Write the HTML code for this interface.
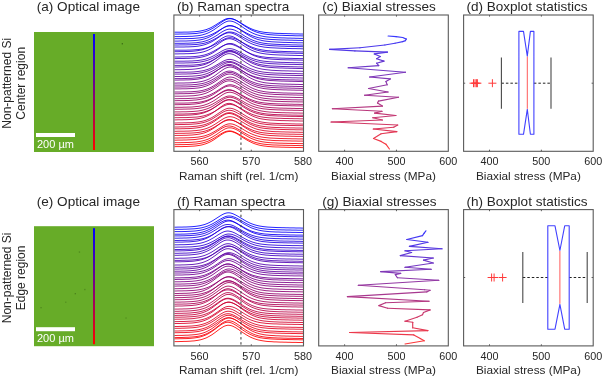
<!DOCTYPE html>
<html><head><meta charset="utf-8"><style>
html,body{margin:0;padding:0;background:#fff;width:602px;height:378px;overflow:hidden}
svg{display:block;will-change:transform}
</style></head><body>
<svg width="602" height="378" viewBox="0 0 602 378" font-family='"Liberation Sans", sans-serif'>
<rect width="602" height="378" fill="#fff"/>
<text x="36.8" y="11.3" font-size="13.55" text-anchor="start" fill="#262626" >(a) Optical image</text>
<text x="177.0" y="11.3" font-size="13.55" text-anchor="start" fill="#262626" >(b) Raman spectra</text>
<text x="322.2" y="11.3" font-size="13.55" text-anchor="start" fill="#262626" >(c) Biaxial stresses</text>
<text x="466.4" y="11.3" font-size="13.55" text-anchor="start" fill="#262626" >(d) Boxplot statistics</text>
<text transform="translate(10.7,83.3) rotate(-90)" font-size="12" text-anchor="middle" fill="#262626">Non-patterned Si</text>
<text transform="translate(25.1,83.3) rotate(-90)" font-size="12" text-anchor="middle" fill="#262626">Center region</text>
<rect x="34" y="32.0" width="120" height="120" fill="#67ac28"/>
<defs><linearGradient id="lg0" x1="0" y1="0" x2="0" y2="1"><stop offset="0" stop-color="#0000ff"/><stop offset="1" stop-color="#ff0000"/></linearGradient></defs>
<rect x="93" y="34.0" width="2" height="116" fill="url(#lg0)"/>
<rect x="121.7" y="43.1" width="1.3" height="1.3" fill="#1a3a08" fill-opacity="0.55"/>
<rect x="36" y="133.0" width="39" height="4" fill="#fff"/>
<text x="37.0" y="147.7" font-size="11" text-anchor="start" fill="#fff" >200 µm</text>
<g fill="none" stroke-width="1.0" stroke-opacity="0.86">
<polyline points="174.5,32.2 176,32.2 178,32.2 180,32.2 182,32.2 184,32.1 186,32.1 188,32.1 190,32.0 192,31.9 194,31.8 196,31.6 198,31.4 200,31.1 202,30.7 204,30.2 206,29.7 208,28.9 210,28.1 212,27.1 214,25.9 216,24.7 218,23.4 220,22.1 222,20.9 224,19.8 226,18.9 228,18.5 230,18.4 232,18.7 234,19.3 236,20.2 238,21.2 240,22.4 242,23.7 244,24.9 246,26.1 248,27.2 250,28.2 252,29.1 254,29.9 256,30.5 258,31.1 260,31.6 262,31.9 264,32.3 266,32.5 268,32.7 270,32.9 272,33.0 274,33.2 276,33.3 278,33.4 280,33.4 282,33.5 284,33.6 286,33.6 288,33.7 290,33.7 292,33.8 294,33.9 296,33.9 298,33.9 300,34.0 302,34.0 303.5,34.1" stroke="rgb(0,0,255)"/>
<polyline points="174.5,34.1 176,34.1 178,34.1 180,34.0 182,34.0 184,34.0 186,34.0 188,33.9 190,33.8 192,33.7 194,33.6 196,33.5 198,33.2 200,32.9 202,32.5 204,32.0 206,31.4 208,30.7 210,29.7 212,28.7 214,27.5 216,26.1 218,24.7 220,23.3 222,21.9 224,20.6 226,19.6 228,18.9 230,18.7 232,18.9 234,19.5 236,20.4 238,21.5 240,22.8 242,24.2 244,25.5 246,26.8 248,28.1 250,29.2 252,30.2 254,31.1 256,31.9 258,32.6 260,33.1 262,33.6 264,33.9 266,34.2 268,34.5 270,34.7 272,34.8 274,35.0 276,35.1 278,35.2 280,35.3 282,35.3 284,35.4 286,35.5 288,35.5 290,35.6 292,35.6 294,35.7 296,35.8 298,35.8 300,35.8 302,35.9 303.5,35.9" stroke="rgb(5,0,250)"/>
<polyline points="174.5,36.6 176,36.6 178,36.6 180,36.6 182,36.5 184,36.5 186,36.5 188,36.4 190,36.3 192,36.3 194,36.1 196,35.9 198,35.7 200,35.4 202,35.0 204,34.4 206,33.8 208,33.0 210,32.0 212,30.9 214,29.7 216,28.3 218,26.9 220,25.4 222,24.0 224,22.8 226,21.8 228,21.1 230,21.0 232,21.3 234,21.9 236,22.9 238,24.0 240,25.3 242,26.7 244,28.1 246,29.4 248,30.7 250,31.8 252,32.8 254,33.7 256,34.5 258,35.1 260,35.7 262,36.1 264,36.5 266,36.8 268,37.0 270,37.2 272,37.3 274,37.5 276,37.6 278,37.7 280,37.8 282,37.9 284,37.9 286,38.0 288,38.1 290,38.1 292,38.2 294,38.2 296,38.3 298,38.3 300,38.4 302,38.4 303.5,38.4" stroke="rgb(10,0,245)"/>
<polyline points="174.5,38.7 176,38.7 178,38.7 180,38.7 182,38.7 184,38.7 186,38.6 188,38.6 190,38.5 192,38.5 194,38.4 196,38.2 198,38.0 200,37.8 202,37.5 204,37.1 206,36.5 208,35.9 210,35.1 212,34.3 214,33.3 216,32.2 218,31.0 220,29.8 222,28.6 224,27.5 226,26.7 228,26.1 230,25.9 232,26.1 234,26.6 236,27.4 238,28.3 240,29.4 242,30.5 244,31.7 246,32.8 248,33.8 250,34.8 252,35.6 254,36.4 256,37.0 258,37.6 260,38.0 262,38.4 264,38.7 266,39.0 268,39.2 270,39.4 272,39.5 274,39.6 276,39.7 278,39.8 280,39.9 282,40.0 284,40.0 286,40.1 288,40.1 290,40.2 292,40.2 294,40.3 296,40.3 298,40.4 300,40.4 302,40.5 303.5,40.5" stroke="rgb(15,0,240)"/>
<polyline points="174.5,41.1 176,41.1 178,41.1 180,41.0 182,41.0 184,41.0 186,41.0 188,40.9 190,40.8 192,40.7 194,40.6 196,40.4 198,40.2 200,39.9 202,39.5 204,39.0 206,38.4 208,37.6 210,36.7 212,35.6 214,34.4 216,33.1 218,31.7 220,30.2 222,28.8 224,27.5 226,26.4 228,25.7 230,25.5 232,25.7 234,26.3 236,27.2 238,28.3 240,29.6 242,31.0 244,32.3 246,33.7 248,34.9 250,36.1 252,37.1 254,38.0 256,38.8 258,39.5 260,40.0 262,40.5 264,40.9 266,41.2 268,41.4 270,41.6 272,41.8 274,41.9 276,42.0 278,42.1 280,42.2 282,42.3 284,42.4 286,42.4 288,42.5 290,42.5 292,42.6 294,42.7 296,42.7 298,42.8 300,42.8 302,42.8 303.5,42.9" stroke="rgb(20,0,235)"/>
<polyline points="174.5,43.3 176,43.3 178,43.3 180,43.3 182,43.3 184,43.3 186,43.2 188,43.2 190,43.1 192,43.0 194,42.9 196,42.8 198,42.5 200,42.2 202,41.9 204,41.4 206,40.8 208,40.1 210,39.2 212,38.2 214,37.1 216,35.9 218,34.6 220,33.2 222,31.9 224,30.8 226,29.9 228,29.3 230,29.1 232,29.4 234,29.9 236,30.8 238,31.9 240,33.1 242,34.3 244,35.6 246,36.8 248,37.9 250,39.0 252,39.9 254,40.7 256,41.4 258,42.0 260,42.5 262,42.9 264,43.3 266,43.5 268,43.8 270,43.9 272,44.1 274,44.2 276,44.3 278,44.4 280,44.5 282,44.6 284,44.6 286,44.7 288,44.7 290,44.8 292,44.9 294,44.9 296,44.9 298,45.0 300,45.0 302,45.1 303.5,45.1" stroke="rgb(25,0,230)"/>
<polyline points="174.5,45.0 176,45.0 178,45.0 180,44.9 182,44.9 184,44.9 186,44.9 188,44.8 190,44.8 192,44.7 194,44.6 196,44.5 198,44.3 200,44.0 202,43.7 204,43.3 206,42.7 208,42.1 210,41.3 212,40.4 214,39.4 216,38.3 218,37.1 220,35.8 222,34.6 224,33.6 226,32.7 228,32.1 230,32.0 232,32.2 234,32.7 236,33.4 238,34.4 240,35.5 242,36.6 244,37.8 246,38.9 248,40.0 250,40.9 252,41.8 254,42.6 256,43.2 258,43.8 260,44.3 262,44.6 264,44.9 266,45.2 268,45.4 270,45.6 272,45.7 274,45.8 276,45.9 278,46.0 280,46.1 282,46.2 284,46.2 286,46.3 288,46.4 290,46.4 292,46.5 294,46.5 296,46.5 298,46.6 300,46.6 302,46.7 303.5,46.7" stroke="rgb(29,0,226)"/>
<polyline points="174.5,47.1 176,47.0 178,47.0 180,47.0 182,47.0 184,47.0 186,46.9 188,46.9 190,46.8 192,46.7 194,46.6 196,46.4 198,46.2 200,45.8 202,45.4 204,44.9 206,44.3 208,43.5 210,42.6 212,41.6 214,40.4 216,39.1 218,37.8 220,36.4 222,35.2 224,34.1 226,33.3 228,32.8 230,32.8 232,33.2 234,33.9 236,34.8 238,35.9 240,37.2 242,38.4 244,39.7 246,40.9 248,42.0 250,43.0 252,43.9 254,44.7 256,45.3 258,45.9 260,46.4 262,46.7 264,47.1 266,47.3 268,47.5 270,47.7 272,47.8 274,47.9 276,48.0 278,48.1 280,48.2 282,48.3 284,48.3 286,48.4 288,48.5 290,48.5 292,48.6 294,48.6 296,48.6 298,48.7 300,48.7 302,48.8 303.5,48.8" stroke="rgb(34,0,221)"/>
<polyline points="174.5,50.2 176,50.2 178,50.2 180,50.2 182,50.2 184,50.2 186,50.2 188,50.1 190,50.1 192,50.0 194,49.9 196,49.7 198,49.6 200,49.3 202,49.0 204,48.6 206,48.1 208,47.5 210,46.7 212,45.9 214,44.9 216,43.8 218,42.6 220,41.4 222,40.3 224,39.3 226,38.4 228,37.9 230,37.7 232,37.9 234,38.4 236,39.1 238,40.0 240,41.1 242,42.2 244,43.3 246,44.4 248,45.4 250,46.4 252,47.2 254,47.9 256,48.6 258,49.1 260,49.5 262,49.9 264,50.2 266,50.5 268,50.7 270,50.8 272,51.0 274,51.1 276,51.2 278,51.3 280,51.3 282,51.4 284,51.5 286,51.5 288,51.6 290,51.6 292,51.7 294,51.7 296,51.8 298,51.8 300,51.9 302,51.9 303.5,51.9" stroke="rgb(39,0,216)"/>
<polyline points="174.5,51.7 176,51.7 178,51.7 180,51.6 182,51.6 184,51.6 186,51.5 188,51.5 190,51.4 192,51.3 194,51.1 196,50.9 198,50.6 200,50.2 202,49.8 204,49.2 206,48.5 208,47.6 210,46.6 212,45.4 214,44.1 216,42.6 218,41.2 220,39.7 222,38.3 224,37.2 226,36.3 228,35.9 230,36.0 232,36.4 234,37.2 236,38.3 238,39.5 240,40.9 242,42.3 244,43.7 246,45.0 248,46.2 250,47.3 252,48.2 254,49.1 256,49.8 258,50.4 260,50.9 262,51.3 264,51.6 266,51.9 268,52.1 270,52.2 272,52.4 274,52.5 276,52.6 278,52.7 280,52.8 282,52.9 284,52.9 286,53.0 288,53.1 290,53.1 292,53.2 294,53.2 296,53.3 298,53.3 300,53.3 302,53.4 303.5,53.4" stroke="rgb(44,0,211)"/>
<polyline points="174.5,53.9 176,53.9 178,53.9 180,53.8 182,53.8 184,53.8 186,53.7 188,53.7 190,53.6 192,53.5 194,53.4 196,53.2 198,52.9 200,52.6 202,52.2 204,51.7 206,51.0 208,50.2 210,49.2 212,48.1 214,46.9 216,45.6 218,44.2 220,42.7 222,41.4 224,40.2 226,39.3 228,38.8 230,38.7 232,39.1 234,39.8 236,40.7 238,41.9 240,43.2 242,44.5 244,45.9 246,47.1 248,48.3 250,49.4 252,50.4 254,51.2 256,51.9 258,52.5 260,53.0 262,53.4 264,53.7 266,54.0 268,54.2 270,54.4 272,54.6 274,54.7 276,54.8 278,54.9 280,55.0 282,55.0 284,55.1 286,55.2 288,55.2 290,55.3 292,55.3 294,55.4 296,55.4 298,55.5 300,55.5 302,55.6 303.5,55.6" stroke="rgb(49,0,206)"/>
<polyline points="174.5,57.0 176,57.0 178,57.0 180,57.0 182,56.9 184,56.9 186,56.9 188,56.8 190,56.8 192,56.7 194,56.6 196,56.4 198,56.2 200,55.9 202,55.5 204,55.1 206,54.5 208,53.8 210,53.0 212,52.0 214,51.0 216,49.8 218,48.6 220,47.4 222,46.2 224,45.3 226,44.5 228,44.1 230,44.1 232,44.4 234,45.1 236,45.9 238,46.9 240,48.0 242,49.2 244,50.3 246,51.4 248,52.4 250,53.3 252,54.2 254,54.9 256,55.5 258,56.0 260,56.4 262,56.8 264,57.0 266,57.3 268,57.5 270,57.6 272,57.7 274,57.8 276,57.9 278,58.0 280,58.1 282,58.2 284,58.2 286,58.3 288,58.3 290,58.4 292,58.4 294,58.5 296,58.5 298,58.5 300,58.6 302,58.6 303.5,58.6" stroke="rgb(54,0,201)"/>
<polyline points="174.5,58.6 176,58.6 178,58.5 180,58.5 182,58.5 184,58.5 186,58.4 188,58.4 190,58.3 192,58.2 194,58.1 196,57.9 198,57.7 200,57.4 202,57.0 204,56.5 206,55.9 208,55.2 210,54.3 212,53.3 214,52.1 216,50.8 218,49.4 220,48.0 222,46.6 224,45.4 226,44.3 228,43.7 230,43.5 232,43.6 234,44.2 236,45.1 238,46.2 240,47.4 242,48.8 244,50.1 246,51.4 248,52.6 250,53.7 252,54.7 254,55.6 256,56.3 258,57.0 260,57.5 262,57.9 264,58.3 266,58.6 268,58.8 270,59.0 272,59.2 274,59.3 276,59.4 278,59.5 280,59.6 282,59.7 284,59.7 286,59.8 288,59.8 290,59.9 292,59.9 294,60.0 296,60.0 298,60.1 300,60.1 302,60.2 303.5,60.2" stroke="rgb(59,0,196)"/>
<polyline points="174.5,61.2 176,61.2 178,61.2 180,61.2 182,61.2 184,61.2 186,61.1 188,61.1 190,61.0 192,61.0 194,60.8 196,60.7 198,60.5 200,60.2 202,59.9 204,59.5 206,59.0 208,58.3 210,57.5 212,56.6 214,55.6 216,54.5 218,53.4 220,52.2 222,51.0 224,50.0 226,49.2 228,48.8 230,48.6 232,48.9 234,49.4 236,50.2 238,51.2 240,52.2 242,53.3 244,54.5 246,55.5 248,56.5 250,57.5 252,58.3 254,59.0 256,59.6 258,60.1 260,60.6 262,60.9 264,61.2 266,61.4 268,61.6 270,61.8 272,61.9 274,62.0 276,62.1 278,62.2 280,62.3 282,62.4 284,62.4 286,62.5 288,62.5 290,62.6 292,62.6 294,62.7 296,62.7 298,62.7 300,62.8 302,62.8 303.5,62.8" stroke="rgb(64,0,191)"/>
<polyline points="174.5,63.0 176,63.0 178,63.0 180,63.0 182,63.0 184,63.0 186,62.9 188,62.9 190,62.8 192,62.8 194,62.7 196,62.5 198,62.3 200,62.1 202,61.7 204,61.3 206,60.8 208,60.2 210,59.4 212,58.5 214,57.5 216,56.4 218,55.2 220,54.1 222,52.9 224,51.9 226,51.1 228,50.6 230,50.4 232,50.6 234,51.1 236,51.9 238,52.8 240,53.9 242,55.0 244,56.2 246,57.2 248,58.2 250,59.2 252,60.0 254,60.7 256,61.4 258,61.9 260,62.3 262,62.7 264,63.0 266,63.2 268,63.4 270,63.6 272,63.7 274,63.8 276,63.9 278,64.0 280,64.1 282,64.1 284,64.2 286,64.3 288,64.3 290,64.4 292,64.4 294,64.4 296,64.5 298,64.5 300,64.6 302,64.6 303.5,64.6" stroke="rgb(69,0,186)"/>
<polyline points="174.5,65.4 176,65.4 178,65.4 180,65.4 182,65.3 184,65.3 186,65.3 188,65.2 190,65.2 192,65.1 194,65.0 196,64.8 198,64.6 200,64.4 202,64.0 204,63.6 206,63.0 208,62.4 210,61.6 212,60.6 214,59.5 216,58.4 218,57.1 220,55.8 222,54.6 224,53.5 226,52.5 228,51.9 230,51.7 232,51.9 234,52.4 236,53.2 238,54.2 240,55.3 242,56.5 244,57.7 246,58.9 248,60.0 250,61.0 252,61.9 254,62.7 256,63.4 258,64.0 260,64.5 262,64.9 264,65.2 266,65.5 268,65.7 270,65.9 272,66.0 274,66.1 276,66.2 278,66.3 280,66.4 282,66.5 284,66.5 286,66.6 288,66.6 290,66.7 292,66.7 294,66.8 296,66.8 298,66.9 300,66.9 302,66.9 303.5,67.0" stroke="rgb(74,0,181)"/>
<polyline points="174.5,67.0 176,67.0 178,67.0 180,66.9 182,66.9 184,66.9 186,66.8 188,66.8 190,66.7 192,66.6 194,66.4 196,66.2 198,66.0 200,65.6 202,65.2 204,64.7 206,64.0 208,63.1 210,62.2 212,61.0 214,59.7 216,58.3 218,56.9 220,55.4 222,53.9 224,52.7 226,51.7 228,51.2 230,51.0 232,51.4 234,52.1 236,53.1 238,54.3 240,55.6 242,57.0 244,58.4 246,59.7 248,61.0 250,62.1 252,63.1 254,64.0 256,64.7 258,65.4 260,65.9 262,66.3 264,66.7 266,67.0 268,67.2 270,67.4 272,67.5 274,67.7 276,67.8 278,67.9 280,68.0 282,68.0 284,68.1 286,68.2 288,68.2 290,68.3 292,68.3 294,68.4 296,68.4 298,68.5 300,68.5 302,68.5 303.5,68.6" stroke="rgb(78,0,177)"/>
<polyline points="174.5,69.7 176,69.7 178,69.7 180,69.7 182,69.6 184,69.6 186,69.5 188,69.5 190,69.4 192,69.3 194,69.1 196,68.9 198,68.6 200,68.3 202,67.8 204,67.3 206,66.6 208,65.7 210,64.7 212,63.5 214,62.2 216,60.8 218,59.3 220,57.8 222,56.4 224,55.2 226,54.2 228,53.7 230,53.7 232,54.1 234,54.8 236,55.9 238,57.1 240,58.5 242,59.9 244,61.3 246,62.6 248,63.8 250,65.0 252,66.0 254,66.8 256,67.6 258,68.2 260,68.7 262,69.1 264,69.4 266,69.7 268,69.9 270,70.1 272,70.3 274,70.4 276,70.5 278,70.6 280,70.7 282,70.8 284,70.8 286,70.9 288,70.9 290,71.0 292,71.0 294,71.1 296,71.1 298,71.2 300,71.2 302,71.3 303.5,71.3" stroke="rgb(83,0,172)"/>
<polyline points="174.5,72.3 176,72.3 178,72.3 180,72.2 182,72.2 184,72.2 186,72.2 188,72.1 190,72.1 192,72.0 194,71.9 196,71.7 198,71.5 200,71.2 202,70.9 204,70.5 206,69.9 208,69.3 210,68.5 212,67.6 214,66.5 216,65.4 218,64.2 220,63.0 222,61.9 224,60.8 226,60.0 228,59.5 230,59.4 232,59.7 234,60.2 236,61.0 238,62.0 240,63.1 242,64.2 244,65.3 246,66.4 248,67.5 250,68.4 252,69.2 254,69.9 256,70.6 258,71.1 260,71.5 262,71.9 264,72.2 266,72.4 268,72.6 270,72.8 272,72.9 274,73.0 276,73.1 278,73.2 280,73.2 282,73.3 284,73.4 286,73.4 288,73.5 290,73.5 292,73.6 294,73.6 296,73.6 298,73.7 300,73.7 302,73.8 303.5,73.8" stroke="rgb(88,0,167)"/>
<polyline points="174.5,74.1 176,74.1 178,74.1 180,74.1 182,74.0 184,74.0 186,74.0 188,73.9 190,73.9 192,73.8 194,73.6 196,73.5 198,73.3 200,73.0 202,72.6 204,72.1 206,71.6 208,70.9 210,70.1 212,69.1 214,68.1 216,66.9 218,65.7 220,64.5 222,63.4 224,62.5 226,61.8 228,61.4 230,61.4 232,61.8 234,62.4 236,63.2 238,64.2 240,65.3 242,66.5 244,67.6 246,68.6 248,69.6 250,70.5 252,71.3 254,72.0 256,72.6 258,73.1 260,73.5 262,73.8 264,74.1 266,74.3 268,74.5 270,74.6 272,74.7 274,74.8 276,74.9 278,75.0 280,75.1 282,75.1 284,75.2 286,75.2 288,75.3 290,75.3 292,75.4 294,75.4 296,75.5 298,75.5 300,75.5 302,75.6 303.5,75.6" stroke="rgb(93,0,162)"/>
<polyline points="174.5,76.5 176,76.5 178,76.5 180,76.5 182,76.4 184,76.4 186,76.4 188,76.3 190,76.2 192,76.2 194,76.0 196,75.9 198,75.6 200,75.4 202,75.0 204,74.5 206,73.9 208,73.2 210,72.3 212,71.3 214,70.2 216,69.0 218,67.7 220,66.4 222,65.1 224,64.0 226,63.1 228,62.6 230,62.4 232,62.7 234,63.3 236,64.2 238,65.2 240,66.4 242,67.6 244,68.9 246,70.0 248,71.2 250,72.2 252,73.1 254,73.9 256,74.5 258,75.1 260,75.6 262,76.0 264,76.3 266,76.5 268,76.7 270,76.9 272,77.1 274,77.2 276,77.3 278,77.4 280,77.4 282,77.5 284,77.6 286,77.6 288,77.7 290,77.7 292,77.8 294,77.8 296,77.8 298,77.9 300,77.9 302,78.0 303.5,78.0" stroke="rgb(98,0,157)"/>
<polyline points="174.5,78.6 176,78.6 178,78.6 180,78.6 182,78.6 184,78.5 186,78.5 188,78.4 190,78.4 192,78.3 194,78.1 196,78.0 198,77.7 200,77.4 202,77.0 204,76.5 206,75.9 208,75.2 210,74.3 212,73.3 214,72.2 216,71.0 218,69.8 220,68.6 222,67.4 224,66.5 226,65.8 228,65.5 230,65.5 232,65.9 234,66.6 236,67.5 238,68.5 240,69.7 242,70.8 244,72.0 246,73.1 248,74.1 250,75.0 252,75.8 254,76.5 256,77.1 258,77.6 260,78.0 262,78.3 264,78.6 266,78.8 268,79.0 270,79.1 272,79.3 274,79.4 276,79.5 278,79.5 280,79.6 282,79.7 284,79.7 286,79.8 288,79.8 290,79.9 292,79.9 294,79.9 296,80.0 298,80.0 300,80.1 302,80.1 303.5,80.1" stroke="rgb(103,0,152)"/>
<polyline points="174.5,80.1 176,80.1 178,80.1 180,80.0 182,80.0 184,80.0 186,79.9 188,79.9 190,79.8 192,79.7 194,79.5 196,79.3 198,79.1 200,78.7 202,78.3 204,77.7 206,77.0 208,76.2 210,75.2 212,74.0 214,72.7 216,71.3 218,69.9 220,68.4 222,67.1 224,65.9 226,65.0 228,64.5 230,64.4 232,64.8 234,65.5 236,66.5 238,67.8 240,69.1 242,70.5 244,71.8 246,73.1 248,74.3 250,75.4 252,76.4 254,77.2 256,78.0 258,78.6 260,79.1 262,79.5 264,79.8 266,80.1 268,80.3 270,80.5 272,80.6 274,80.7 276,80.8 278,80.9 280,81.0 282,81.1 284,81.1 286,81.2 288,81.2 290,81.3 292,81.3 294,81.4 296,81.4 298,81.5 300,81.5 302,81.6 303.5,81.6" stroke="rgb(108,0,147)"/>
<polyline points="174.5,83.1 176,83.1 178,83.0 180,83.0 182,83.0 184,83.0 186,82.9 188,82.9 190,82.8 192,82.7 194,82.5 196,82.4 198,82.1 200,81.8 202,81.4 204,80.9 206,80.2 208,79.5 210,78.5 212,77.4 214,76.2 216,74.8 218,73.3 220,71.8 222,70.4 224,69.0 226,68.0 228,67.3 230,67.0 232,67.2 234,67.8 236,68.7 238,69.8 240,71.2 242,72.5 244,73.9 246,75.3 248,76.6 250,77.8 252,78.8 254,79.7 256,80.5 258,81.2 260,81.7 262,82.2 264,82.6 266,82.9 268,83.1 270,83.3 272,83.5 274,83.6 276,83.7 278,83.8 280,83.9 282,84.0 284,84.1 286,84.1 288,84.2 290,84.2 292,84.3 294,84.3 296,84.4 298,84.4 300,84.5 302,84.5 303.5,84.5" stroke="rgb(113,0,142)"/>
<polyline points="174.5,85.1 176,85.1 178,85.1 180,85.1 182,85.1 184,85.0 186,85.0 188,84.9 190,84.9 192,84.8 194,84.6 196,84.5 198,84.2 200,83.9 202,83.6 204,83.1 206,82.5 208,81.7 210,80.9 212,79.8 214,78.7 216,77.5 218,76.2 220,74.9 222,73.6 224,72.5 226,71.7 228,71.2 230,71.1 232,71.4 234,72.0 236,72.9 238,74.0 240,75.2 242,76.4 244,77.6 246,78.8 248,79.9 250,80.9 252,81.8 254,82.5 256,83.2 258,83.8 260,84.2 262,84.6 264,84.9 266,85.2 268,85.4 270,85.5 272,85.7 274,85.8 276,85.9 278,85.9 280,86.0 282,86.1 284,86.1 286,86.2 288,86.2 290,86.3 292,86.3 294,86.4 296,86.4 298,86.5 300,86.5 302,86.5 303.5,86.6" stroke="rgb(118,0,137)"/>
<polyline points="174.5,87.0 176,87.0 178,87.0 180,87.0 182,86.9 184,86.9 186,86.9 188,86.8 190,86.7 192,86.6 194,86.5 196,86.3 198,86.1 200,85.8 202,85.4 204,84.9 206,84.3 208,83.6 210,82.7 212,81.7 214,80.5 216,79.2 218,77.9 220,76.5 222,75.2 224,74.1 226,73.1 228,72.6 230,72.4 232,72.7 234,73.3 236,74.2 238,75.2 240,76.5 242,77.7 244,79.0 246,80.2 248,81.4 250,82.4 252,83.4 254,84.2 256,84.9 258,85.5 260,85.9 262,86.4 264,86.7 266,86.9 268,87.2 270,87.3 272,87.5 274,87.6 276,87.7 278,87.8 280,87.9 282,87.9 284,88.0 286,88.0 288,88.1 290,88.1 292,88.2 294,88.2 296,88.3 298,88.3 300,88.4 302,88.4 303.5,88.4" stroke="rgb(123,0,132)"/>
<polyline points="174.5,88.9 176,88.9 178,88.9 180,88.9 182,88.8 184,88.8 186,88.8 188,88.7 190,88.6 192,88.5 194,88.4 196,88.2 198,88.0 200,87.7 202,87.3 204,86.7 206,86.1 208,85.3 210,84.4 212,83.4 214,82.2 216,80.9 218,79.5 220,78.1 222,76.8 224,75.6 226,74.7 228,74.2 230,74.0 232,74.3 234,75.0 236,75.9 238,77.0 240,78.2 242,79.5 244,80.8 246,82.1 248,83.2 250,84.3 252,85.2 254,86.0 256,86.7 258,87.3 260,87.8 262,88.2 264,88.6 266,88.8 268,89.0 270,89.2 272,89.4 274,89.5 276,89.6 278,89.7 280,89.7 282,89.8 284,89.9 286,89.9 288,90.0 290,90.0 292,90.1 294,90.1 296,90.2 298,90.2 300,90.2 302,90.3 303.5,90.3" stroke="rgb(128,0,128)"/>
<polyline points="174.5,92.0 176,92.0 178,92.0 180,92.0 182,92.0 184,91.9 186,91.9 188,91.8 190,91.8 192,91.7 194,91.5 196,91.4 198,91.2 200,90.9 202,90.5 204,90.0 206,89.4 208,88.7 210,87.8 212,86.8 214,85.6 216,84.4 218,83.0 220,81.6 222,80.2 224,79.0 226,78.0 228,77.3 230,77.0 232,77.2 234,77.7 236,78.6 238,79.7 240,80.9 242,82.2 244,83.5 246,84.7 248,85.9 250,87.0 252,88.0 254,88.9 256,89.6 258,90.3 260,90.8 262,91.2 264,91.6 266,91.9 268,92.1 270,92.3 272,92.4 274,92.5 276,92.7 278,92.7 280,92.8 282,92.9 284,93.0 286,93.0 288,93.1 290,93.1 292,93.2 294,93.2 296,93.2 298,93.3 300,93.3 302,93.4 303.5,93.4" stroke="rgb(132,0,123)"/>
<polyline points="174.5,93.8 176,93.8 178,93.8 180,93.7 182,93.7 184,93.7 186,93.6 188,93.6 190,93.5 192,93.4 194,93.3 196,93.1 198,92.8 200,92.5 202,92.1 204,91.6 206,91.0 208,90.2 210,89.3 212,88.2 214,87.1 216,85.8 218,84.4 220,83.1 222,81.8 224,80.6 226,79.8 228,79.3 230,79.2 232,79.5 234,80.2 236,81.1 238,82.2 240,83.4 242,84.7 244,86.0 246,87.2 248,88.3 250,89.3 252,90.3 254,91.1 256,91.7 258,92.3 260,92.8 262,93.2 264,93.5 266,93.7 268,93.9 270,94.1 272,94.2 274,94.4 276,94.5 278,94.5 280,94.6 282,94.7 284,94.7 286,94.8 288,94.8 290,94.9 292,94.9 294,95.0 296,95.0 298,95.1 300,95.1 302,95.1 303.5,95.2" stroke="rgb(137,0,118)"/>
<polyline points="174.5,96.2 176,96.2 178,96.2 180,96.2 182,96.2 184,96.1 186,96.1 188,96.0 190,95.9 192,95.8 194,95.7 196,95.4 198,95.2 200,94.8 202,94.4 204,93.8 206,93.2 208,92.3 210,91.3 212,90.2 214,88.9 216,87.6 218,86.2 220,84.7 222,83.4 224,82.2 226,81.4 228,80.9 230,80.9 232,81.3 234,82.0 236,83.0 238,84.2 240,85.5 242,86.9 244,88.2 246,89.4 248,90.6 250,91.7 252,92.6 254,93.4 256,94.1 258,94.7 260,95.2 262,95.6 264,95.9 266,96.2 268,96.4 270,96.5 272,96.7 274,96.8 276,96.9 278,97.0 280,97.0 282,97.1 284,97.2 286,97.2 288,97.3 290,97.3 292,97.4 294,97.4 296,97.5 298,97.5 300,97.5 302,97.6 303.5,97.6" stroke="rgb(142,0,113)"/>
<polyline points="174.5,98.7 176,98.7 178,98.7 180,98.6 182,98.6 184,98.6 186,98.6 188,98.5 190,98.4 192,98.3 194,98.2 196,98.1 198,97.9 200,97.6 202,97.3 204,96.8 206,96.3 208,95.6 210,94.8 212,93.8 214,92.8 216,91.6 218,90.3 220,89.0 222,87.7 224,86.6 226,85.6 228,85.0 230,84.7 232,84.9 234,85.4 236,86.1 238,87.1 240,88.3 242,89.5 244,90.7 246,91.9 248,93.0 250,94.0 252,94.9 254,95.7 256,96.4 258,97.0 260,97.5 262,97.9 264,98.3 266,98.5 268,98.7 270,98.9 272,99.1 274,99.2 276,99.3 278,99.4 280,99.4 282,99.5 284,99.6 286,99.6 288,99.7 290,99.7 292,99.8 294,99.8 296,99.8 298,99.9 300,99.9 302,99.9 303.5,100.0" stroke="rgb(147,0,108)"/>
<polyline points="174.5,100.7 176,100.7 178,100.6 180,100.6 182,100.6 184,100.6 186,100.5 188,100.5 190,100.4 192,100.3 194,100.1 196,100.0 198,99.7 200,99.4 202,99.0 204,98.5 206,97.9 208,97.1 210,96.2 212,95.2 214,94.0 216,92.7 218,91.3 220,90.0 222,88.7 224,87.5 226,86.6 228,86.1 230,85.9 232,86.2 234,86.8 236,87.7 238,88.9 240,90.1 242,91.4 244,92.6 246,93.9 248,95.0 250,96.1 252,97.0 254,97.8 256,98.5 258,99.1 260,99.6 262,100.0 264,100.3 266,100.5 268,100.7 270,100.9 272,101.1 274,101.2 276,101.3 278,101.4 280,101.4 282,101.5 284,101.6 286,101.6 288,101.7 290,101.7 292,101.8 294,101.8 296,101.8 298,101.9 300,101.9 302,101.9 303.5,102.0" stroke="rgb(152,0,103)"/>
<polyline points="174.5,103.1 176,103.1 178,103.1 180,103.1 182,103.1 184,103.1 186,103.0 188,103.0 190,102.9 192,102.8 194,102.7 196,102.5 198,102.3 200,102.0 202,101.7 204,101.2 206,100.6 208,100.0 210,99.1 212,98.2 214,97.2 216,96.0 218,94.8 220,93.6 222,92.5 224,91.4 226,90.7 228,90.2 230,90.2 232,90.5 234,91.0 236,91.9 238,92.9 240,94.0 242,95.1 244,96.2 246,97.3 248,98.3 250,99.2 252,100.0 254,100.7 256,101.4 258,101.9 260,102.3 262,102.6 264,102.9 266,103.1 268,103.3 270,103.5 272,103.6 274,103.7 276,103.8 278,103.9 280,103.9 282,104.0 284,104.0 286,104.1 288,104.1 290,104.2 292,104.2 294,104.3 296,104.3 298,104.3 300,104.4 302,104.4 303.5,104.4" stroke="rgb(157,0,98)"/>
<polyline points="174.5,104.7 176,104.7 178,104.7 180,104.6 182,104.6 184,104.6 186,104.5 188,104.5 190,104.4 192,104.2 194,104.1 196,103.9 198,103.6 200,103.3 202,102.8 204,102.2 206,101.6 208,100.7 210,99.7 212,98.6 214,97.4 216,96.0 218,94.6 220,93.2 222,92.0 224,90.9 226,90.1 228,89.7 230,89.8 232,90.2 234,91.0 236,92.0 238,93.2 240,94.5 242,95.8 244,97.1 246,98.3 248,99.4 250,100.4 252,101.3 254,102.1 256,102.7 258,103.3 260,103.7 262,104.1 264,104.4 266,104.6 268,104.8 270,105.0 272,105.1 274,105.2 276,105.3 278,105.4 280,105.5 282,105.5 284,105.6 286,105.6 288,105.7 290,105.7 292,105.8 294,105.8 296,105.9 298,105.9 300,105.9 302,106.0 303.5,106.0" stroke="rgb(162,0,93)"/>
<polyline points="174.5,107.4 176,107.3 178,107.3 180,107.3 182,107.3 184,107.2 186,107.2 188,107.1 190,107.1 192,107.0 194,106.8 196,106.6 198,106.4 200,106.1 202,105.7 204,105.2 206,104.5 208,103.8 210,102.8 212,101.8 214,100.6 216,99.3 218,97.9 220,96.5 222,95.1 224,93.9 226,92.9 228,92.4 230,92.2 232,92.5 234,93.1 236,94.0 238,95.1 240,96.4 242,97.7 244,99.0 246,100.3 248,101.4 250,102.5 252,103.5 254,104.3 256,105.0 258,105.6 260,106.1 262,106.5 264,106.9 266,107.1 268,107.4 270,107.5 272,107.7 274,107.8 276,107.9 278,108.0 280,108.1 282,108.1 284,108.2 286,108.2 288,108.3 290,108.3 292,108.4 294,108.4 296,108.5 298,108.5 300,108.5 302,108.6 303.5,108.6" stroke="rgb(167,0,88)"/>
<polyline points="174.5,109.2 176,109.2 178,109.2 180,109.2 182,109.2 184,109.1 186,109.1 188,109.0 190,109.0 192,108.9 194,108.8 196,108.6 198,108.4 200,108.1 202,107.8 204,107.3 206,106.8 208,106.1 210,105.3 212,104.4 214,103.3 216,102.1 218,100.9 220,99.7 222,98.5 224,97.5 226,96.6 228,96.1 230,96.0 232,96.2 234,96.8 236,97.6 238,98.6 240,99.7 242,100.8 244,102.0 246,103.1 248,104.1 250,105.0 252,105.9 254,106.6 256,107.3 258,107.8 260,108.2 262,108.6 264,108.9 266,109.1 268,109.3 270,109.5 272,109.6 274,109.7 276,109.8 278,109.9 280,109.9 282,110.0 284,110.1 286,110.1 288,110.2 290,110.2 292,110.2 294,110.3 296,110.3 298,110.3 300,110.4 302,110.4 303.5,110.4" stroke="rgb(172,0,83)"/>
<polyline points="174.5,111.9 176,111.9 178,111.9 180,111.9 182,111.8 184,111.8 186,111.8 188,111.7 190,111.6 192,111.5 194,111.4 196,111.2 198,111.0 200,110.7 202,110.3 204,109.8 206,109.2 208,108.5 210,107.6 212,106.6 214,105.4 216,104.1 218,102.8 220,101.4 222,100.1 224,98.9 226,98.0 228,97.4 230,97.2 232,97.5 234,98.1 236,98.9 238,100.0 240,101.2 242,102.5 244,103.8 246,105.0 248,106.1 250,107.2 252,108.1 254,108.9 256,109.6 258,110.2 260,110.7 262,111.1 264,111.4 266,111.7 268,111.9 270,112.1 272,112.2 274,112.4 276,112.5 278,112.5 280,112.6 282,112.7 284,112.7 286,112.8 288,112.8 290,112.9 292,112.9 294,113.0 296,113.0 298,113.0 300,113.1 302,113.1 303.5,113.1" stroke="rgb(177,0,78)"/>
<polyline points="174.5,114.1 176,114.1 178,114.0 180,114.0 182,114.0 184,114.0 186,113.9 188,113.9 190,113.8 192,113.7 194,113.6 196,113.4 198,113.2 200,112.9 202,112.5 204,112.0 206,111.4 208,110.7 210,109.9 212,108.9 214,107.7 216,106.5 218,105.2 220,103.9 222,102.6 224,101.4 226,100.5 228,99.9 230,99.8 232,100.0 234,100.6 236,101.4 238,102.4 240,103.6 242,104.9 244,106.1 246,107.3 248,108.4 250,109.4 252,110.4 254,111.2 256,111.8 258,112.4 260,112.9 262,113.3 264,113.6 266,113.9 268,114.1 270,114.2 272,114.4 274,114.5 276,114.6 278,114.7 280,114.7 282,114.8 284,114.9 286,114.9 288,115.0 290,115.0 292,115.1 294,115.1 296,115.1 298,115.2 300,115.2 302,115.2 303.5,115.3" stroke="rgb(181,0,74)"/>
<polyline points="174.5,115.4 176,115.3 178,115.3 180,115.3 182,115.3 184,115.2 186,115.2 188,115.1 190,115.0 192,114.9 194,114.7 196,114.5 198,114.2 200,113.8 202,113.4 204,112.8 206,112.0 208,111.2 210,110.2 212,109.0 214,107.7 216,106.3 218,104.8 220,103.4 222,102.0 224,100.9 226,100.1 228,99.7 230,99.8 232,100.2 234,101.0 236,102.1 238,103.3 240,104.6 242,106.0 244,107.3 246,108.6 248,109.7 250,110.8 252,111.7 254,112.5 256,113.2 258,113.8 260,114.2 262,114.6 264,114.9 266,115.2 268,115.4 270,115.6 272,115.7 274,115.8 276,115.9 278,116.0 280,116.0 282,116.1 284,116.2 286,116.2 288,116.3 290,116.3 292,116.4 294,116.4 296,116.4 298,116.5 300,116.5 302,116.5 303.5,116.6" stroke="rgb(186,0,69)"/>
<polyline points="174.5,117.7 176,117.7 178,117.7 180,117.6 182,117.6 184,117.6 186,117.6 188,117.5 190,117.4 192,117.3 194,117.2 196,117.1 198,116.9 200,116.6 202,116.2 204,115.8 206,115.2 208,114.5 210,113.7 212,112.8 214,111.8 216,110.6 218,109.4 220,108.1 222,106.9 224,105.9 226,105.0 228,104.5 230,104.3 232,104.6 234,105.1 236,105.9 238,106.9 240,108.0 242,109.1 244,110.3 246,111.4 248,112.5 250,113.4 252,114.3 254,115.0 256,115.6 258,116.2 260,116.6 262,117.0 264,117.3 266,117.5 268,117.7 270,117.9 272,118.0 274,118.1 276,118.2 278,118.3 280,118.3 282,118.4 284,118.5 286,118.5 288,118.5 290,118.6 292,118.6 294,118.7 296,118.7 298,118.7 300,118.8 302,118.8 303.5,118.8" stroke="rgb(191,0,64)"/>
<polyline points="174.5,119.9 176,119.9 178,119.8 180,119.8 182,119.8 184,119.7 186,119.7 188,119.6 190,119.5 192,119.4 194,119.2 196,119.0 198,118.7 200,118.3 202,117.9 204,117.3 206,116.5 208,115.6 210,114.6 212,113.4 214,112.0 216,110.6 218,109.0 220,107.5 222,106.1 224,104.8 226,103.9 228,103.4 230,103.4 232,103.8 234,104.6 236,105.6 238,106.9 240,108.3 242,109.7 244,111.1 246,112.5 248,113.7 250,114.8 252,115.8 254,116.7 256,117.4 258,118.1 260,118.6 262,119.0 264,119.3 266,119.6 268,119.8 270,120.0 272,120.1 274,120.2 276,120.3 278,120.4 280,120.5 282,120.6 284,120.6 286,120.7 288,120.7 290,120.8 292,120.8 294,120.9 296,120.9 298,120.9 300,121.0 302,121.0 303.5,121.0" stroke="rgb(196,0,59)"/>
<polyline points="174.5,123.0 176,123.0 178,122.9 180,122.9 182,122.9 184,122.8 186,122.8 188,122.7 190,122.7 192,122.6 194,122.4 196,122.2 198,122.0 200,121.7 202,121.3 204,120.8 206,120.2 208,119.4 210,118.5 212,117.5 214,116.3 216,115.0 218,113.6 220,112.3 222,111.0 224,109.8 226,108.9 228,108.3 230,108.2 232,108.5 234,109.1 236,110.0 238,111.0 240,112.3 242,113.5 244,114.8 246,116.0 248,117.2 250,118.2 252,119.1 254,120.0 256,120.7 258,121.2 260,121.7 262,122.1 264,122.4 266,122.7 268,122.9 270,123.1 272,123.2 274,123.3 276,123.4 278,123.5 280,123.6 282,123.6 284,123.7 286,123.7 288,123.8 290,123.8 292,123.9 294,123.9 296,124.0 298,124.0 300,124.0 302,124.1 303.5,124.1" stroke="rgb(201,0,54)"/>
<polyline points="174.5,124.6 176,124.6 178,124.6 180,124.5 182,124.5 184,124.5 186,124.4 188,124.4 190,124.3 192,124.2 194,124.0 196,123.9 198,123.6 200,123.3 202,122.9 204,122.4 206,121.8 208,121.0 210,120.1 212,119.1 214,117.9 216,116.6 218,115.3 220,114.0 222,112.7 224,111.6 226,110.8 228,110.3 230,110.3 232,110.6 234,111.3 236,112.2 238,113.3 240,114.4 242,115.7 244,116.9 246,118.1 248,119.2 250,120.2 252,121.1 254,121.8 256,122.5 258,123.0 260,123.5 262,123.8 264,124.1 266,124.4 268,124.6 270,124.7 272,124.9 274,125.0 276,125.1 278,125.1 280,125.2 282,125.3 284,125.3 286,125.4 288,125.4 290,125.5 292,125.5 294,125.5 296,125.6 298,125.6 300,125.6 302,125.7 303.5,125.7" stroke="rgb(206,0,49)"/>
<polyline points="174.5,127.0 176,127.0 178,127.0 180,126.9 182,126.9 184,126.9 186,126.8 188,126.8 190,126.7 192,126.6 194,126.4 196,126.3 198,126.0 200,125.7 202,125.3 204,124.8 206,124.2 208,123.4 210,122.5 212,121.5 214,120.3 216,119.1 218,117.7 220,116.4 222,115.2 224,114.1 226,113.2 228,112.8 230,112.7 232,113.0 234,113.7 236,114.6 238,115.7 240,116.8 242,118.1 244,119.3 246,120.5 248,121.6 250,122.6 252,123.5 254,124.2 256,124.9 258,125.4 260,125.9 262,126.2 264,126.5 266,126.8 268,127.0 270,127.1 272,127.3 274,127.4 276,127.5 278,127.5 280,127.6 282,127.7 284,127.7 286,127.8 288,127.8 290,127.9 292,127.9 294,127.9 296,128.0 298,128.0 300,128.0 302,128.1 303.5,128.1" stroke="rgb(211,0,44)"/>
<polyline points="174.5,128.8 176,128.8 178,128.8 180,128.8 182,128.7 184,128.7 186,128.6 188,128.6 190,128.5 192,128.4 194,128.2 196,128.0 198,127.7 200,127.4 202,127.0 204,126.4 206,125.7 208,124.9 210,123.9 212,122.8 214,121.6 216,120.2 218,118.8 220,117.4 222,116.1 224,114.9 226,114.0 228,113.5 230,113.5 232,113.9 234,114.6 236,115.5 238,116.7 240,118.0 242,119.3 244,120.6 246,121.9 248,123.0 250,124.1 252,125.0 254,125.8 256,126.5 258,127.1 260,127.6 262,128.0 264,128.3 266,128.5 268,128.7 270,128.9 272,129.0 274,129.1 276,129.2 278,129.3 280,129.4 282,129.5 284,129.5 286,129.6 288,129.6 290,129.7 292,129.7 294,129.7 296,129.8 298,129.8 300,129.8 302,129.9 303.5,129.9" stroke="rgb(216,0,39)"/>
<polyline points="174.5,131.3 176,131.3 178,131.2 180,131.2 182,131.2 184,131.2 186,131.1 188,131.1 190,131.0 192,130.9 194,130.7 196,130.6 198,130.3 200,130.1 202,129.7 204,129.2 206,128.6 208,127.9 210,127.0 212,126.0 214,124.8 216,123.6 218,122.3 220,120.9 222,119.6 224,118.4 226,117.5 228,116.9 230,116.7 232,116.9 234,117.4 236,118.3 238,119.3 240,120.5 242,121.8 244,123.0 246,124.2 248,125.4 250,126.4 252,127.3 254,128.2 256,128.9 258,129.5 260,129.9 262,130.3 264,130.7 266,130.9 268,131.1 270,131.3 272,131.5 274,131.6 276,131.7 278,131.7 280,131.8 282,131.9 284,131.9 286,132.0 288,132.0 290,132.1 292,132.1 294,132.2 296,132.2 298,132.2 300,132.3 302,132.3 303.5,132.3" stroke="rgb(221,0,34)"/>
<polyline points="174.5,133.4 176,133.4 178,133.3 180,133.3 182,133.3 184,133.3 186,133.2 188,133.2 190,133.1 192,133.0 194,132.9 196,132.7 198,132.5 200,132.2 202,131.8 204,131.4 206,130.8 208,130.1 210,129.3 212,128.4 214,127.3 216,126.1 218,124.9 220,123.7 222,122.5 224,121.4 226,120.6 228,120.1 230,120.0 232,120.2 234,120.8 236,121.6 238,122.6 240,123.7 242,124.8 244,126.0 246,127.1 248,128.1 250,129.1 252,129.9 254,130.7 256,131.3 258,131.8 260,132.3 262,132.6 264,132.9 266,133.1 268,133.3 270,133.5 272,133.6 274,133.7 276,133.8 278,133.9 280,133.9 282,134.0 284,134.0 286,134.1 288,134.1 290,134.2 292,134.2 294,134.2 296,134.3 298,134.3 300,134.3 302,134.4 303.5,134.4" stroke="rgb(226,0,29)"/>
<polyline points="174.5,135.5 176,135.4 178,135.4 180,135.4 182,135.4 184,135.3 186,135.3 188,135.2 190,135.1 192,135.0 194,134.8 196,134.6 198,134.3 200,134.0 202,133.5 204,133.0 206,132.3 208,131.4 210,130.4 212,129.2 214,128.0 216,126.6 218,125.1 220,123.6 222,122.2 224,121.0 226,120.1 228,119.6 230,119.6 232,120.0 234,120.7 236,121.7 238,122.9 240,124.2 242,125.6 244,126.9 246,128.2 248,129.4 250,130.5 252,131.5 254,132.3 256,133.0 258,133.6 260,134.1 262,134.5 264,134.8 266,135.1 268,135.3 270,135.5 272,135.6 274,135.7 276,135.8 278,135.9 280,136.0 282,136.0 284,136.1 286,136.2 288,136.2 290,136.2 292,136.3 294,136.3 296,136.4 298,136.4 300,136.4 302,136.5 303.5,136.5" stroke="rgb(230,0,25)"/>
<polyline points="174.5,138.0 176,138.0 178,138.0 180,137.9 182,137.9 184,137.9 186,137.8 188,137.8 190,137.7 192,137.6 194,137.5 196,137.3 198,137.1 200,136.8 202,136.4 204,136.0 206,135.4 208,134.7 210,133.9 212,132.9 214,131.8 216,130.6 218,129.3 220,128.0 222,126.7 224,125.5 226,124.6 228,124.0 230,123.8 232,124.0 234,124.5 236,125.4 238,126.4 240,127.5 242,128.7 244,129.9 246,131.1 248,132.2 250,133.2 252,134.1 254,134.9 256,135.6 258,136.2 260,136.7 262,137.1 264,137.4 266,137.6 268,137.8 270,138.0 272,138.1 274,138.2 276,138.3 278,138.4 280,138.5 282,138.5 284,138.6 286,138.6 288,138.7 290,138.7 292,138.8 294,138.8 296,138.8 298,138.9 300,138.9 302,138.9 303.5,139.0" stroke="rgb(235,0,20)"/>
<polyline points="174.5,140.2 176,140.2 178,140.1 180,140.1 182,140.1 184,140.0 186,140.0 188,139.9 190,139.8 192,139.7 194,139.6 196,139.4 198,139.1 200,138.8 202,138.4 204,137.9 206,137.2 208,136.5 210,135.6 212,134.5 214,133.3 216,132.1 218,130.8 220,129.5 222,128.2 224,127.2 226,126.4 228,126.0 230,126.0 232,126.4 234,127.0 236,128.0 238,129.1 240,130.2 242,131.5 244,132.7 246,133.8 248,134.9 250,135.9 252,136.7 254,137.4 256,138.1 258,138.6 260,139.0 262,139.4 264,139.7 266,139.9 268,140.1 270,140.2 272,140.4 274,140.5 276,140.6 278,140.6 280,140.7 282,140.7 284,140.8 286,140.8 288,140.9 290,140.9 292,141.0 294,141.0 296,141.0 298,141.1 300,141.1 302,141.1 303.5,141.1" stroke="rgb(240,0,15)"/>
<polyline points="174.5,142.7 176,142.7 178,142.7 180,142.7 182,142.6 184,142.6 186,142.5 188,142.5 190,142.4 192,142.3 194,142.1 196,142.0 198,141.7 200,141.4 202,141.0 204,140.5 206,139.9 208,139.2 210,138.3 212,137.2 214,136.0 216,134.8 218,133.4 220,132.0 222,130.7 224,129.5 226,128.5 228,127.9 230,127.8 232,128.0 234,128.6 236,129.5 238,130.5 240,131.8 242,133.0 244,134.3 246,135.5 248,136.7 250,137.8 252,138.7 254,139.5 256,140.2 258,140.8 260,141.3 262,141.7 264,142.0 266,142.3 268,142.5 270,142.7 272,142.8 274,142.9 276,143.0 278,143.1 280,143.2 282,143.2 284,143.3 286,143.3 288,143.4 290,143.4 292,143.5 294,143.5 296,143.5 298,143.6 300,143.6 302,143.6 303.5,143.7" stroke="rgb(245,0,10)"/>
<polyline points="174.5,144.7 176,144.7 178,144.7 180,144.6 182,144.6 184,144.6 186,144.5 188,144.5 190,144.4 192,144.3 194,144.1 196,144.0 198,143.7 200,143.4 202,143.0 204,142.5 206,141.9 208,141.2 210,140.3 212,139.3 214,138.2 216,137.0 218,135.7 220,134.4 222,133.2 224,132.2 226,131.4 228,131.0 230,130.9 232,131.2 234,131.9 236,132.7 238,133.8 240,134.9 242,136.1 244,137.3 246,138.4 248,139.5 250,140.4 252,141.2 254,142.0 256,142.6 258,143.1 260,143.5 262,143.9 264,144.2 266,144.4 268,144.6 270,144.7 272,144.9 274,145.0 276,145.0 278,145.1 280,145.2 282,145.2 284,145.3 286,145.3 288,145.4 290,145.4 292,145.4 294,145.5 296,145.5 298,145.5 300,145.6 302,145.6 303.5,145.6" stroke="rgb(250,0,5)"/>
<polyline points="174.5,146.7 176,146.6 178,146.6 180,146.6 182,146.6 184,146.5 186,146.5 188,146.4 190,146.3 192,146.2 194,146.1 196,145.9 198,145.6 200,145.3 202,144.9 204,144.3 206,143.7 208,142.9 210,142.0 212,140.9 214,139.7 216,138.3 218,136.9 220,135.5 222,134.2 224,133.0 226,132.1 228,131.6 230,131.4 232,131.7 234,132.4 236,133.3 238,134.4 240,135.7 242,137.0 244,138.3 246,139.5 248,140.7 250,141.7 252,142.7 254,143.5 256,144.2 258,144.8 260,145.3 262,145.7 264,146.0 266,146.2 268,146.5 270,146.6 272,146.8 274,146.9 276,147.0 278,147.0 280,147.1 282,147.2 284,147.2 286,147.3 288,147.3 290,147.4 292,147.4 294,147.4 296,147.5 298,147.5 300,147.5 302,147.6 303.5,147.6" stroke="rgb(255,0,0)"/>
</g>
<line x1="240.95999999999998" y1="15.0" x2="240.95999999999998" y2="151.3" stroke="#333" stroke-width="1" stroke-dasharray="2.4,2.7"/>
<rect x="173.9" y="15.0" width="129.6" height="136.3" fill="none" stroke="#5a5a5a" stroke-width="1.1"/>
<line x1="199.6" y1="15.0" x2="199.6" y2="16.6" stroke="#5a5a5a" stroke-width="1"/>
<line x1="199.6" y1="151.3" x2="199.6" y2="149.70000000000002" stroke="#5a5a5a" stroke-width="1"/>
<text x="199.6" y="165.3" font-size="10.8" text-anchor="middle" fill="#262626" >560</text>
<line x1="251.3" y1="15.0" x2="251.3" y2="16.6" stroke="#5a5a5a" stroke-width="1"/>
<line x1="251.3" y1="151.3" x2="251.3" y2="149.70000000000002" stroke="#5a5a5a" stroke-width="1"/>
<text x="251.3" y="165.3" font-size="10.8" text-anchor="middle" fill="#262626" >570</text>
<text x="303.0" y="165.3" font-size="10.8" text-anchor="middle" fill="#262626" >580</text>
<text x="238.7" y="179.6" font-size="11.8" text-anchor="middle" fill="#262626" >Raman shift (rel. 1/cm)</text>
<g fill="none" stroke-width="1" stroke-linecap="round" stroke-linejoin="round">
<line x1="388.1" y1="36.0" x2="396" y2="36.6" stroke="rgb(56,56,254)" stroke-width="1.15"/>
<line x1="396" y1="36.6" x2="402.7" y2="37.5" stroke="rgb(57,56,253)" stroke-width="1.15"/>
<line x1="402.7" y1="37.5" x2="406.3" y2="39.1" stroke="rgb(60,56,250)" stroke-width="1.15"/>
<line x1="406.3" y1="39.1" x2="405.5" y2="40.6" stroke="rgb(62,56,248)" stroke-width="1.15"/>
<line x1="405.5" y1="40.6" x2="402.7" y2="41.6" stroke="rgb(65,56,246)" stroke-width="1.15"/>
<line x1="402.7" y1="41.6" x2="395" y2="43.2" stroke="rgb(67,56,243)" stroke-width="1.15"/>
<line x1="395" y1="43.2" x2="384.8" y2="45" stroke="rgb(70,56,240)" stroke-width="1.15"/>
<line x1="384.8" y1="45" x2="360" y2="47.8" stroke="rgb(74,56,236)" stroke-width="1.15"/>
<line x1="360" y1="47.8" x2="329.5" y2="49.4" stroke="rgb(78,56,232)" stroke-width="1.15"/>
<line x1="329.5" y1="49.4" x2="354.9" y2="50.9" stroke="rgb(81,56,230)" stroke-width="1.15"/>
<line x1="354.9" y1="50.9" x2="387.5" y2="52.1" stroke="rgb(83,56,227)" stroke-width="1.15"/>
<line x1="387.5" y1="52.1" x2="374.3" y2="53.9" stroke="rgb(86,56,225)" stroke-width="1.15"/>
<line x1="374.3" y1="53.9" x2="380.3" y2="56.6" stroke="rgb(89,56,221)" stroke-width="1.15"/>
<line x1="380.3" y1="56.6" x2="376.6" y2="58.7" stroke="rgb(94,56,216)" stroke-width="1.15"/>
<line x1="376.6" y1="58.7" x2="384" y2="61.1" stroke="rgb(98,56,212)" stroke-width="1.15"/>
<line x1="384" y1="61.1" x2="376.6" y2="63.2" stroke="rgb(102,56,208)" stroke-width="1.15"/>
<line x1="376.6" y1="63.2" x2="378.8" y2="65.6" stroke="rgb(106,56,205)" stroke-width="1.15"/>
<line x1="378.8" y1="65.6" x2="348.2" y2="67.8" stroke="rgb(110,56,200)" stroke-width="1.15"/>
<line x1="348.2" y1="67.8" x2="405.5" y2="72.2" stroke="rgb(115,56,195)" stroke-width="1.15"/>
<line x1="405.5" y1="72.2" x2="369.6" y2="77.0" stroke="rgb(124,56,187)" stroke-width="1.15"/>
<line x1="369.6" y1="77.0" x2="390.3" y2="78.9" stroke="rgb(129,56,181)" stroke-width="1.15"/>
<line x1="390.3" y1="78.9" x2="385.9" y2="81.5" stroke="rgb(133,56,177)" stroke-width="1.15"/>
<line x1="385.9" y1="81.5" x2="387.2" y2="84.8" stroke="rgb(139,56,172)" stroke-width="1.15"/>
<line x1="387.2" y1="84.8" x2="368.5" y2="88.5" stroke="rgb(145,56,165)" stroke-width="1.15"/>
<line x1="368.5" y1="88.5" x2="388.1" y2="92" stroke="rgb(151,56,159)" stroke-width="1.15"/>
<line x1="388.1" y1="92" x2="364.6" y2="95.2" stroke="rgb(157,56,153)" stroke-width="1.15"/>
<line x1="364.6" y1="95.2" x2="398.5" y2="97.2" stroke="rgb(162,56,149)" stroke-width="1.15"/>
<line x1="398.5" y1="97.2" x2="378.5" y2="101.1" stroke="rgb(167,56,143)" stroke-width="1.15"/>
<line x1="378.5" y1="101.1" x2="377.5" y2="103" stroke="rgb(172,56,138)" stroke-width="1.15"/>
<line x1="377.5" y1="103" x2="382.4" y2="106.1" stroke="rgb(176,56,134)" stroke-width="1.15"/>
<line x1="382.4" y1="106.1" x2="332.4" y2="108.7" stroke="rgb(181,56,129)" stroke-width="1.15"/>
<line x1="332.4" y1="108.7" x2="382" y2="111.3" stroke="rgb(186,56,124)" stroke-width="1.15"/>
<line x1="382" y1="111.3" x2="374.6" y2="113.1" stroke="rgb(190,56,120)" stroke-width="1.15"/>
<line x1="374.6" y1="113.1" x2="395.9" y2="115.5" stroke="rgb(193,56,117)" stroke-width="1.15"/>
<line x1="395.9" y1="115.5" x2="372.8" y2="117.7" stroke="rgb(197,56,113)" stroke-width="1.15"/>
<line x1="372.8" y1="117.7" x2="382.4" y2="120" stroke="rgb(201,56,109)" stroke-width="1.15"/>
<line x1="382.4" y1="120" x2="331.1" y2="122" stroke="rgb(205,56,105)" stroke-width="1.15"/>
<line x1="331.1" y1="122" x2="397.7" y2="125" stroke="rgb(210,56,100)" stroke-width="1.15"/>
<line x1="397.7" y1="125" x2="393.7" y2="127.2" stroke="rgb(214,56,96)" stroke-width="1.15"/>
<line x1="393.7" y1="127.2" x2="373.3" y2="129" stroke="rgb(218,56,92)" stroke-width="1.15"/>
<line x1="373.3" y1="129" x2="396.8" y2="131.6" stroke="rgb(222,56,89)" stroke-width="1.15"/>
<line x1="396.8" y1="131.6" x2="381.1" y2="133.8" stroke="rgb(226,56,84)" stroke-width="1.15"/>
<line x1="381.1" y1="133.8" x2="373.5" y2="138.5" stroke="rgb(232,56,78)" stroke-width="1.15"/>
<line x1="373.5" y1="138.5" x2="381.1" y2="141.4" stroke="rgb(239,56,72)" stroke-width="1.15"/>
<line x1="381.1" y1="141.4" x2="385.9" y2="144.2" stroke="rgb(244,56,67)" stroke-width="1.15"/>
<line x1="385.9" y1="144.2" x2="389.4" y2="149" stroke="rgb(250,56,60)" stroke-width="1.15"/>
</g>
<rect x="318.7" y="15.0" width="129.6" height="136.3" fill="none" stroke="#5a5a5a" stroke-width="1.1"/>
<line x1="344.62" y1="15.0" x2="344.62" y2="16.6" stroke="#5a5a5a" stroke-width="1"/>
<line x1="344.62" y1="151.3" x2="344.62" y2="149.70000000000002" stroke="#5a5a5a" stroke-width="1"/>
<text x="344.62" y="165.3" font-size="10.8" text-anchor="middle" fill="#262626" >400</text>
<line x1="396.46" y1="15.0" x2="396.46" y2="16.6" stroke="#5a5a5a" stroke-width="1"/>
<line x1="396.46" y1="151.3" x2="396.46" y2="149.70000000000002" stroke="#5a5a5a" stroke-width="1"/>
<text x="396.46" y="165.3" font-size="10.8" text-anchor="middle" fill="#262626" >500</text>
<text x="448.29999999999995" y="165.3" font-size="10.8" text-anchor="middle" fill="#262626" >600</text>
<text x="383.5" y="179.6" font-size="11.8" text-anchor="middle" fill="#262626" >Biaxial stress (MPa)</text>
<line x1="501.4" y1="83.2" x2="518.9" y2="83.2" stroke="#222" stroke-width="1" stroke-dasharray="2.5,2"/>
<line x1="533.9" y1="83.2" x2="551.0" y2="83.2" stroke="#222" stroke-width="1" stroke-dasharray="2.5,2"/>
<line x1="501.4" y1="57.5" x2="501.4" y2="108.7" stroke="#484848" stroke-width="1.1"/>
<line x1="551.0" y1="57.5" x2="551.0" y2="108.7" stroke="#484848" stroke-width="1.1"/>
<path d="M518.9,31.4 L523.5,31.4 L527.3,56.1 L530.4,31.4 L533.9,31.4 L533.9,134.3 L530.4,134.3 L527.3,109.3 L523.5,134.3 L518.9,134.3 Z" fill="none" stroke="#4040ff" stroke-width="1.1" stroke-linejoin="round"/>
<line x1="527.3" y1="56.6" x2="527.3" y2="108.8" stroke="#ff5a5a" stroke-width="1"/>
<path d="M469.5,83.2 h8 M473.5,79.2 v8" stroke="#ff3a3a" stroke-width="1" fill="none"/>
<path d="M471.0,83.2 h8 M475.0,79.2 v8" stroke="#ff3a3a" stroke-width="1" fill="none"/>
<path d="M472.4,83.2 h8 M476.4,79.2 v8" stroke="#ff3a3a" stroke-width="1" fill="none"/>
<path d="M473.4,83.2 h8 M477.4,79.2 v8" stroke="#ff3a3a" stroke-width="1" fill="none"/>
<path d="M488.4,83.2 h8 M492.4,79.2 v8" stroke="#ff3a3a" stroke-width="1" fill="none"/>
<rect x="463.6" y="15.0" width="129.6" height="136.3" fill="none" stroke="#5a5a5a" stroke-width="1.1"/>
<line x1="489.52000000000004" y1="15.0" x2="489.52000000000004" y2="16.6" stroke="#5a5a5a" stroke-width="1"/>
<line x1="489.52000000000004" y1="151.3" x2="489.52000000000004" y2="149.70000000000002" stroke="#5a5a5a" stroke-width="1"/>
<text x="489.52000000000004" y="165.3" font-size="10.8" text-anchor="middle" fill="#262626" >400</text>
<line x1="541.36" y1="15.0" x2="541.36" y2="16.6" stroke="#5a5a5a" stroke-width="1"/>
<line x1="541.36" y1="151.3" x2="541.36" y2="149.70000000000002" stroke="#5a5a5a" stroke-width="1"/>
<text x="541.36" y="165.3" font-size="10.8" text-anchor="middle" fill="#262626" >500</text>
<text x="593.2" y="165.3" font-size="10.8" text-anchor="middle" fill="#262626" >600</text>
<line x1="463.6" y1="83.2" x2="465.20000000000005" y2="83.2" stroke="#5a5a5a" stroke-width="1"/>
<line x1="593.2" y1="83.2" x2="591.6" y2="83.2" stroke="#5a5a5a" stroke-width="1"/>
<text x="528.4" y="179.6" font-size="11.8" text-anchor="middle" fill="#262626" >Biaxial stress (MPa)</text>
<text x="36.8" y="205.9" font-size="13.55" text-anchor="start" fill="#262626" >(e) Optical image</text>
<text x="177.0" y="205.9" font-size="13.55" text-anchor="start" fill="#262626" >(f) Raman spectra</text>
<text x="322.2" y="205.9" font-size="13.55" text-anchor="start" fill="#262626" >(g) Biaxial stresses</text>
<text x="466.4" y="205.9" font-size="13.55" text-anchor="start" fill="#262626" >(h) Boxplot statistics</text>
<text transform="translate(10.7,277.9) rotate(-90)" font-size="12" text-anchor="middle" fill="#262626">Non-patterned Si</text>
<text transform="translate(25.1,277.9) rotate(-90)" font-size="12" text-anchor="middle" fill="#262626">Edge region</text>
<rect x="34" y="226.2" width="120" height="120" fill="#67ac28"/>
<defs><linearGradient id="lg1" x1="0" y1="0" x2="0" y2="1"><stop offset="0" stop-color="#0000ff"/><stop offset="1" stop-color="#ff0000"/></linearGradient></defs>
<rect x="93" y="228.2" width="2" height="116" fill="url(#lg1)"/>
<rect x="78.80000000000001" y="251.4" width="1.3" height="1.3" fill="#1a3a08" fill-opacity="0.3"/>
<rect x="84.2" y="288.9" width="1.3" height="1.3" fill="#1a3a08" fill-opacity="0.3"/>
<rect x="74.7" y="293.0" width="1.3" height="1.3" fill="#1a3a08" fill-opacity="0.35"/>
<rect x="40.4" y="307.0" width="1.3" height="1.3" fill="#1a3a08" fill-opacity="0.3"/>
<rect x="65.10000000000001" y="301.59999999999997" width="1.3" height="1.3" fill="#1a3a08" fill-opacity="0.25"/>
<rect x="125.4" y="317.4" width="1.3" height="1.3" fill="#1a3a08" fill-opacity="0.25"/>
<rect x="36" y="327.2" width="39" height="4" fill="#fff"/>
<text x="37.0" y="341.9" font-size="11" text-anchor="start" fill="#fff" >200 µm</text>
<g fill="none" stroke-width="1.0" stroke-opacity="0.86">
<polyline points="174.5,227.2 176,227.2 178,227.1 180,227.1 182,227.1 184,227.0 186,227.0 188,226.9 190,226.8 192,226.7 194,226.5 196,226.3 198,226.0 200,225.7 202,225.2 204,224.7 206,224.0 208,223.2 210,222.2 212,221.1 214,219.9 216,218.6 218,217.3 220,216.0 222,214.8 224,213.8 226,213.1 228,212.8 230,212.9 232,213.4 234,214.2 236,215.2 238,216.3 240,217.5 242,218.7 244,219.9 246,221.1 248,222.1 250,223.1 252,223.9 254,224.6 256,225.2 258,225.7 260,226.1 262,226.4 264,226.7 266,226.9 268,227.1 270,227.2 272,227.3 274,227.4 276,227.5 278,227.6 280,227.6 282,227.7 284,227.7 286,227.8 288,227.8 290,227.9 292,227.9 294,227.9 296,228.0 298,228.0 300,228.0 302,228.1 303.5,228.1" stroke="rgb(0,0,255)"/>
<polyline points="174.5,229.4 176,229.3 178,229.3 180,229.3 182,229.3 184,229.2 186,229.2 188,229.1 190,229.0 192,228.9 194,228.8 196,228.6 198,228.4 200,228.1 202,227.7 204,227.2 206,226.6 208,225.9 210,225.0 212,224.1 214,223.0 216,221.8 218,220.5 220,219.3 222,218.2 224,217.2 226,216.4 228,216.0 230,216.0 232,216.3 234,217.0 236,217.8 238,218.9 240,220.0 242,221.1 244,222.3 246,223.4 248,224.4 250,225.3 252,226.1 254,226.8 256,227.4 258,227.9 260,228.3 262,228.6 264,228.9 266,229.1 268,229.3 270,229.4 272,229.5 274,229.6 276,229.7 278,229.8 280,229.8 282,229.9 284,229.9 286,230.0 288,230.0 290,230.0 292,230.1 294,230.1 296,230.1 298,230.2 300,230.2 302,230.2 303.5,230.2" stroke="rgb(5,0,250)"/>
<polyline points="174.5,231.6 176,231.6 178,231.6 180,231.6 182,231.6 184,231.5 186,231.5 188,231.4 190,231.3 192,231.2 194,231.1 196,230.9 198,230.6 200,230.3 202,229.9 204,229.4 206,228.7 208,228.0 210,227.1 212,226.0 214,224.9 216,223.6 218,222.3 220,221.0 222,219.7 224,218.6 226,217.8 228,217.4 230,217.4 232,217.7 234,218.3 236,219.3 238,220.3 240,221.5 242,222.8 244,224.0 246,225.1 248,226.2 250,227.2 252,228.1 254,228.8 256,229.4 258,230.0 260,230.4 262,230.8 264,231.1 266,231.3 268,231.5 270,231.7 272,231.8 274,231.9 276,232.0 278,232.0 280,232.1 282,232.2 284,232.2 286,232.2 288,232.3 290,232.3 292,232.4 294,232.4 296,232.4 298,232.5 300,232.5 302,232.5 303.5,232.5" stroke="rgb(10,0,245)"/>
<polyline points="174.5,234.2 176,234.2 178,234.2 180,234.2 182,234.1 184,234.1 186,234.0 188,233.9 190,233.8 192,233.7 194,233.5 196,233.3 198,233.0 200,232.6 202,232.2 204,231.6 206,230.9 208,230.0 210,229.0 212,227.9 214,226.7 216,225.4 218,224.1 220,222.8 222,221.7 224,220.8 226,220.3 228,220.1 230,220.4 232,220.9 234,221.8 236,222.8 238,224.0 240,225.2 242,226.4 244,227.5 246,228.6 248,229.6 250,230.5 252,231.3 254,231.9 256,232.5 258,232.9 260,233.3 262,233.6 264,233.9 266,234.1 268,234.2 270,234.4 272,234.5 274,234.5 276,234.6 278,234.7 280,234.7 282,234.8 284,234.8 286,234.9 288,234.9 290,235.0 292,235.0 294,235.0 296,235.1 298,235.1 300,235.1 302,235.1 303.5,235.2" stroke="rgb(15,0,240)"/>
<polyline points="174.5,235.9 176,235.9 178,235.9 180,235.9 182,235.8 184,235.8 186,235.7 188,235.6 190,235.6 192,235.4 194,235.3 196,235.1 198,234.8 200,234.5 202,234.0 204,233.5 206,232.8 208,231.9 210,231.0 212,229.9 214,228.6 216,227.3 218,225.9 220,224.6 222,223.3 224,222.2 226,221.4 228,221.0 230,221.0 232,221.4 234,222.2 236,223.2 238,224.3 240,225.6 242,226.8 244,228.1 246,229.3 248,230.4 250,231.4 252,232.3 254,233.1 256,233.7 258,234.2 260,234.7 262,235.1 264,235.4 266,235.6 268,235.8 270,235.9 272,236.1 274,236.2 276,236.2 278,236.3 280,236.4 282,236.4 284,236.5 286,236.5 288,236.6 290,236.6 292,236.7 294,236.7 296,236.7 298,236.8 300,236.8 302,236.8 303.5,236.8" stroke="rgb(20,0,235)"/>
<polyline points="174.5,238.2 176,238.2 178,238.2 180,238.1 182,238.1 184,238.0 186,238.0 188,237.9 190,237.8 192,237.7 194,237.5 196,237.3 198,237.0 200,236.6 202,236.2 204,235.6 206,234.9 208,234.1 210,233.1 212,232.0 214,230.8 216,229.6 218,228.3 220,227.1 222,226.0 224,225.1 226,224.6 228,224.5 230,224.7 232,225.2 234,226.0 236,227.1 238,228.2 240,229.4 242,230.5 244,231.7 246,232.7 248,233.7 250,234.5 252,235.3 254,235.9 256,236.5 258,236.9 260,237.3 262,237.6 264,237.8 266,238.0 268,238.2 270,238.3 272,238.4 274,238.5 276,238.6 278,238.6 280,238.7 282,238.8 284,238.8 286,238.8 288,238.9 290,238.9 292,238.9 294,239.0 296,239.0 298,239.0 300,239.1 302,239.1 303.5,239.1" stroke="rgb(25,0,230)"/>
<polyline points="174.5,240.5 176,240.5 178,240.5 180,240.4 182,240.4 184,240.4 186,240.3 188,240.2 190,240.2 192,240.1 194,239.9 196,239.7 198,239.5 200,239.2 202,238.8 204,238.3 206,237.7 208,236.9 210,236.0 212,235.0 214,233.9 216,232.6 218,231.3 220,230.0 222,228.8 224,227.8 226,227.0 228,226.6 230,226.5 232,226.9 234,227.5 236,228.4 238,229.5 240,230.6 242,231.8 244,233.0 246,234.2 248,235.2 250,236.2 252,237.0 254,237.7 256,238.4 258,238.9 260,239.3 262,239.7 264,240.0 266,240.2 268,240.4 270,240.5 272,240.6 274,240.7 276,240.8 278,240.9 280,241.0 282,241.0 284,241.1 286,241.1 288,241.1 290,241.2 292,241.2 294,241.2 296,241.3 298,241.3 300,241.3 302,241.4 303.5,241.4" stroke="rgb(29,0,226)"/>
<polyline points="174.5,242.2 176,242.2 178,242.1 180,242.1 182,242.1 184,242.0 186,241.9 188,241.9 190,241.8 192,241.6 194,241.4 196,241.2 198,240.9 200,240.4 202,239.9 204,239.3 206,238.5 208,237.6 210,236.5 212,235.3 214,233.9 216,232.5 218,231.1 220,229.7 222,228.4 224,227.5 226,226.8 228,226.7 230,226.9 232,227.5 234,228.4 236,229.6 238,230.8 240,232.1 242,233.5 244,234.7 246,235.9 248,237.0 250,238.0 252,238.9 254,239.6 256,240.2 258,240.7 260,241.1 262,241.5 264,241.7 266,241.9 268,242.1 270,242.3 272,242.4 274,242.5 276,242.6 278,242.6 280,242.7 282,242.7 284,242.8 286,242.8 288,242.9 290,242.9 292,242.9 294,243.0 296,243.0 298,243.0 300,243.1 302,243.1 303.5,243.1" stroke="rgb(34,0,221)"/>
<polyline points="174.5,244.8 176,244.8 178,244.8 180,244.7 182,244.7 184,244.7 186,244.6 188,244.5 190,244.4 192,244.3 194,244.1 196,243.9 198,243.6 200,243.3 202,242.8 204,242.2 206,241.5 208,240.7 210,239.7 212,238.6 214,237.5 216,236.2 218,234.9 220,233.7 222,232.6 224,231.7 226,231.2 228,231.0 230,231.3 232,231.8 234,232.6 236,233.6 238,234.7 240,235.9 242,237.1 244,238.2 246,239.3 248,240.3 250,241.1 252,241.9 254,242.5 256,243.1 258,243.5 260,243.9 262,244.2 264,244.4 266,244.6 268,244.8 270,244.9 272,245.0 274,245.1 276,245.2 278,245.3 280,245.3 282,245.4 284,245.4 286,245.4 288,245.5 290,245.5 292,245.6 294,245.6 296,245.6 298,245.6 300,245.7 302,245.7 303.5,245.7" stroke="rgb(39,0,216)"/>
<polyline points="174.5,247.2 176,247.2 178,247.1 180,247.1 182,247.1 184,247.0 186,247.0 188,246.9 190,246.9 192,246.8 194,246.6 196,246.4 198,246.2 200,245.9 202,245.5 204,245.0 206,244.4 208,243.7 210,242.8 212,241.9 214,240.8 216,239.6 218,238.4 220,237.2 222,236.1 224,235.1 226,234.4 228,234.0 230,234.1 232,234.4 234,235.1 236,235.9 238,236.9 240,238.1 242,239.2 244,240.3 246,241.4 248,242.3 250,243.2 252,244.0 254,244.7 256,245.3 258,245.7 260,246.1 262,246.5 264,246.7 266,246.9 268,247.1 270,247.2 272,247.3 274,247.4 276,247.5 278,247.6 280,247.6 282,247.7 284,247.7 286,247.8 288,247.8 290,247.9 292,247.9 294,247.9 296,248.0 298,248.0 300,248.0 302,248.0 303.5,248.1" stroke="rgb(44,0,211)"/>
<polyline points="174.5,249.5 176,249.5 178,249.5 180,249.5 182,249.4 184,249.4 186,249.3 188,249.3 190,249.2 192,249.1 194,248.9 196,248.7 198,248.5 200,248.1 202,247.7 204,247.2 206,246.6 208,245.8 210,244.9 212,243.8 214,242.7 216,241.5 218,240.2 220,239.0 222,237.8 224,236.9 226,236.2 228,235.9 230,236.0 232,236.4 234,237.2 236,238.1 238,239.2 240,240.3 242,241.5 244,242.6 246,243.7 248,244.7 250,245.6 252,246.4 254,247.1 256,247.6 258,248.1 260,248.5 262,248.8 264,249.1 266,249.3 268,249.5 270,249.6 272,249.7 274,249.8 276,249.9 278,250.0 280,250.0 282,250.1 284,250.1 286,250.2 288,250.2 290,250.2 292,250.3 294,250.3 296,250.3 298,250.4 300,250.4 302,250.4 303.5,250.4" stroke="rgb(49,0,206)"/>
<polyline points="174.5,250.9 176,250.9 178,250.9 180,250.9 182,250.8 184,250.8 186,250.7 188,250.6 190,250.5 192,250.4 194,250.2 196,250.0 198,249.7 200,249.3 202,248.8 204,248.2 206,247.5 208,246.6 210,245.6 212,244.5 214,243.2 216,241.9 218,240.5 220,239.2 222,238.1 224,237.1 226,236.5 228,236.3 230,236.5 232,237.1 234,237.9 236,239.0 238,240.2 240,241.4 242,242.7 244,243.9 246,245.0 248,246.0 250,247.0 252,247.8 254,248.5 256,249.0 258,249.5 260,249.9 262,250.2 264,250.5 266,250.7 268,250.9 270,251.0 272,251.1 274,251.2 276,251.3 278,251.4 280,251.4 282,251.5 284,251.5 286,251.6 288,251.6 290,251.6 292,251.7 294,251.7 296,251.7 298,251.8 300,251.8 302,251.8 303.5,251.9" stroke="rgb(54,0,201)"/>
<polyline points="174.5,253.3 176,253.3 178,253.3 180,253.2 182,253.2 184,253.1 186,253.1 188,253.0 190,252.9 192,252.7 194,252.6 196,252.3 198,252.0 200,251.6 202,251.0 204,250.4 206,249.6 208,248.7 210,247.6 212,246.4 214,245.0 216,243.6 218,242.1 220,240.7 222,239.5 224,238.5 226,237.9 228,237.7 230,237.9 232,238.6 234,239.5 236,240.6 238,241.9 240,243.2 242,244.5 244,245.8 246,247.0 248,248.1 250,249.1 252,250.0 254,250.7 256,251.3 258,251.8 260,252.2 262,252.6 264,252.9 266,253.1 268,253.2 270,253.4 272,253.5 274,253.6 276,253.7 278,253.8 280,253.8 282,253.9 284,253.9 286,254.0 288,254.0 290,254.1 292,254.1 294,254.1 296,254.2 298,254.2 300,254.2 302,254.2 303.5,254.3" stroke="rgb(59,0,196)"/>
<polyline points="174.5,255.3 176,255.3 178,255.3 180,255.2 182,255.2 184,255.1 186,255.1 188,255.0 190,254.9 192,254.7 194,254.5 196,254.3 198,254.0 200,253.6 202,253.1 204,252.4 206,251.6 208,250.7 210,249.6 212,248.4 214,247.1 216,245.7 218,244.3 220,242.9 222,241.7 224,240.7 226,240.1 228,240.0 230,240.2 232,240.8 234,241.7 236,242.8 238,244.1 240,245.4 242,246.7 244,247.9 246,249.1 248,250.2 250,251.2 252,252.0 254,252.7 256,253.3 258,253.8 260,254.2 262,254.6 264,254.8 266,255.1 268,255.2 270,255.4 272,255.5 274,255.6 276,255.7 278,255.7 280,255.8 282,255.9 284,255.9 286,255.9 288,256.0 290,256.0 292,256.1 294,256.1 296,256.1 298,256.2 300,256.2 302,256.2 303.5,256.2" stroke="rgb(64,0,191)"/>
<polyline points="174.5,258.3 176,258.3 178,258.3 180,258.2 182,258.2 184,258.2 186,258.1 188,258.0 190,257.9 192,257.8 194,257.6 196,257.4 198,257.1 200,256.7 202,256.2 204,255.6 206,254.9 208,254.0 210,253.0 212,251.9 214,250.6 216,249.3 218,247.9 220,246.6 222,245.5 224,244.5 226,243.9 228,243.7 230,243.9 232,244.5 234,245.3 236,246.3 238,247.5 240,248.8 242,250.0 244,251.2 246,252.4 248,253.4 250,254.3 252,255.1 254,255.8 256,256.4 258,256.9 260,257.3 262,257.6 264,257.9 266,258.1 268,258.3 270,258.4 272,258.5 274,258.6 276,258.7 278,258.8 280,258.8 282,258.9 284,258.9 286,259.0 288,259.0 290,259.0 292,259.1 294,259.1 296,259.1 298,259.2 300,259.2 302,259.2 303.5,259.2" stroke="rgb(69,0,186)"/>
<polyline points="174.5,260.4 176,260.4 178,260.4 180,260.4 182,260.3 184,260.3 186,260.2 188,260.2 190,260.1 192,260.0 194,259.8 196,259.7 198,259.4 200,259.1 202,258.7 204,258.2 206,257.6 208,256.8 210,255.9 212,254.9 214,253.7 216,252.5 218,251.2 220,249.9 222,248.7 224,247.6 226,246.8 228,246.4 230,246.3 232,246.7 234,247.3 236,248.2 238,249.3 240,250.5 242,251.7 244,252.9 246,254.0 248,255.1 250,256.0 252,256.9 254,257.6 256,258.3 258,258.8 260,259.2 262,259.6 264,259.9 266,260.1 268,260.3 270,260.4 272,260.6 274,260.7 276,260.7 278,260.8 280,260.9 282,260.9 284,261.0 286,261.0 288,261.1 290,261.1 292,261.1 294,261.2 296,261.2 298,261.2 300,261.3 302,261.3 303.5,261.3" stroke="rgb(74,0,181)"/>
<polyline points="174.5,261.8 176,261.8 178,261.8 180,261.8 182,261.7 184,261.7 186,261.6 188,261.5 190,261.4 192,261.3 194,261.1 196,260.8 198,260.5 200,260.1 202,259.6 204,258.9 206,258.1 208,257.2 210,256.1 212,254.9 214,253.5 216,252.0 218,250.6 220,249.1 222,247.8 224,246.8 226,246.1 228,245.8 230,246.0 232,246.6 234,247.5 236,248.6 238,249.9 240,251.2 242,252.6 244,253.9 246,255.2 248,256.3 250,257.4 252,258.3 254,259.0 256,259.7 258,260.2 260,260.7 262,261.0 264,261.3 266,261.5 268,261.7 270,261.9 272,262.0 274,262.1 276,262.2 278,262.3 280,262.3 282,262.4 284,262.4 286,262.5 288,262.5 290,262.6 292,262.6 294,262.6 296,262.7 298,262.7 300,262.7 302,262.8 303.5,262.8" stroke="rgb(78,0,177)"/>
<polyline points="174.5,265.1 176,265.0 178,265.0 180,265.0 182,264.9 184,264.9 186,264.8 188,264.7 190,264.6 192,264.5 194,264.3 196,264.0 198,263.7 200,263.2 202,262.7 204,262.0 206,261.2 208,260.3 210,259.1 212,257.8 214,256.4 216,255.0 218,253.4 220,252.0 222,250.7 224,249.6 226,248.9 228,248.7 230,248.9 232,249.5 234,250.5 236,251.7 238,253.0 240,254.4 242,255.8 244,257.1 246,258.4 248,259.5 250,260.6 252,261.5 254,262.2 256,262.9 258,263.4 260,263.9 262,264.2 264,264.5 266,264.8 268,264.9 270,265.1 272,265.2 274,265.3 276,265.4 278,265.5 280,265.5 282,265.6 284,265.7 286,265.7 288,265.7 290,265.8 292,265.8 294,265.9 296,265.9 298,265.9 300,266.0 302,266.0 303.5,266.0" stroke="rgb(83,0,172)"/>
<polyline points="174.5,267.3 176,267.3 178,267.3 180,267.2 182,267.2 184,267.2 186,267.1 188,267.0 190,267.0 192,266.8 194,266.7 196,266.5 198,266.2 200,265.9 202,265.5 204,264.9 206,264.3 208,263.5 210,262.5 212,261.4 214,260.2 216,258.9 218,257.6 220,256.2 222,255.0 224,253.9 226,253.1 228,252.7 230,252.7 232,253.1 234,253.8 236,254.7 238,255.8 240,257.1 242,258.3 244,259.6 246,260.7 248,261.8 250,262.8 252,263.7 254,264.5 256,265.1 258,265.6 260,266.1 262,266.5 264,266.7 266,267.0 268,267.2 270,267.3 272,267.4 274,267.5 276,267.6 278,267.7 280,267.8 282,267.8 284,267.9 286,267.9 288,268.0 290,268.0 292,268.0 294,268.1 296,268.1 298,268.1 300,268.2 302,268.2 303.5,268.2" stroke="rgb(88,0,167)"/>
<polyline points="174.5,269.1 176,269.1 178,269.1 180,269.0 182,269.0 184,268.9 186,268.9 188,268.8 190,268.7 192,268.5 194,268.3 196,268.1 198,267.8 200,267.4 202,266.8 204,266.2 206,265.4 208,264.5 210,263.4 212,262.1 214,260.8 216,259.4 218,257.9 220,256.5 222,255.3 224,254.3 226,253.7 228,253.5 230,253.8 232,254.4 234,255.3 236,256.5 238,257.7 240,259.1 242,260.4 244,261.7 246,262.9 248,264.0 250,264.9 252,265.8 254,266.5 256,267.1 258,267.6 260,268.1 262,268.4 264,268.7 266,268.9 268,269.1 270,269.2 272,269.3 274,269.4 276,269.5 278,269.6 280,269.6 282,269.7 284,269.7 286,269.8 288,269.8 290,269.9 292,269.9 294,269.9 296,270.0 298,270.0 300,270.0 302,270.0 303.5,270.1" stroke="rgb(93,0,162)"/>
<polyline points="174.5,271.3 176,271.2 178,271.2 180,271.2 182,271.1 184,271.1 186,271.0 188,270.9 190,270.8 192,270.6 194,270.4 196,270.2 198,269.8 200,269.4 202,268.8 204,268.1 206,267.3 208,266.3 210,265.1 212,263.8 214,262.4 216,260.9 218,259.3 220,257.8 222,256.4 224,255.3 226,254.6 228,254.4 230,254.6 232,255.3 234,256.2 236,257.4 238,258.8 240,260.2 242,261.7 244,263.0 246,264.4 248,265.5 250,266.6 252,267.5 254,268.3 256,269.0 258,269.6 260,270.0 262,270.4 264,270.7 266,270.9 268,271.1 270,271.3 272,271.4 274,271.5 276,271.6 278,271.7 280,271.7 282,271.8 284,271.8 286,271.9 288,271.9 290,272.0 292,272.0 294,272.1 296,272.1 298,272.1 300,272.2 302,272.2 303.5,272.2" stroke="rgb(98,0,157)"/>
<polyline points="174.5,273.0 176,273.0 178,273.0 180,273.0 182,272.9 184,272.9 186,272.8 188,272.8 190,272.7 192,272.6 194,272.4 196,272.2 198,272.0 200,271.6 202,271.2 204,270.7 206,270.0 208,269.2 210,268.3 212,267.2 214,266.1 216,264.8 218,263.5 220,262.1 222,260.9 224,259.9 226,259.1 228,258.7 230,258.8 232,259.2 234,259.9 236,260.8 238,261.9 240,263.1 242,264.4 244,265.6 246,266.7 248,267.8 250,268.7 252,269.6 254,270.3 256,270.9 258,271.5 260,271.9 262,272.2 264,272.5 266,272.7 268,272.9 270,273.1 272,273.2 274,273.3 276,273.4 278,273.4 280,273.5 282,273.6 284,273.6 286,273.7 288,273.7 290,273.7 292,273.8 294,273.8 296,273.8 298,273.9 300,273.9 302,273.9 303.5,273.9" stroke="rgb(103,0,152)"/>
<polyline points="174.5,275.1 176,275.0 178,275.0 180,275.0 182,275.0 184,274.9 186,274.8 188,274.8 190,274.7 192,274.5 194,274.4 196,274.1 198,273.9 200,273.5 202,273.0 204,272.4 206,271.7 208,270.8 210,269.8 212,268.7 214,267.5 216,266.1 218,264.8 220,263.5 222,262.3 224,261.3 226,260.7 228,260.5 230,260.6 232,261.2 234,262.0 236,263.0 238,264.2 240,265.4 242,266.7 244,267.9 246,269.0 248,270.1 250,271.0 252,271.8 254,272.5 256,273.1 258,273.6 260,274.0 262,274.4 264,274.6 266,274.8 268,275.0 270,275.1 272,275.3 274,275.4 276,275.4 278,275.5 280,275.6 282,275.6 284,275.7 286,275.7 288,275.7 290,275.8 292,275.8 294,275.9 296,275.9 298,275.9 300,275.9 302,276.0 303.5,276.0" stroke="rgb(108,0,147)"/>
<polyline points="174.5,277.9 176,277.8 178,277.8 180,277.8 182,277.7 184,277.7 186,277.6 188,277.6 190,277.5 192,277.3 194,277.2 196,277.0 198,276.7 200,276.3 202,275.8 204,275.3 206,274.6 208,273.7 210,272.8 212,271.7 214,270.5 216,269.2 218,268.0 220,266.7 222,265.6 224,264.8 226,264.2 228,264.1 230,264.3 232,264.9 234,265.7 236,266.7 238,267.8 240,269.0 242,270.2 244,271.3 246,272.4 248,273.3 250,274.2 252,275.0 254,275.6 256,276.1 258,276.6 260,277.0 262,277.3 264,277.5 266,277.7 268,277.9 270,278.0 272,278.1 274,278.2 276,278.2 278,278.3 280,278.4 282,278.4 284,278.5 286,278.5 288,278.5 290,278.6 292,278.6 294,278.6 296,278.7 298,278.7 300,278.7 302,278.8 303.5,278.8" stroke="rgb(113,0,142)"/>
<polyline points="174.5,279.5 176,279.5 178,279.4 180,279.4 182,279.4 184,279.3 186,279.2 188,279.2 190,279.1 192,278.9 194,278.7 196,278.5 198,278.2 200,277.8 202,277.3 204,276.6 206,275.9 208,274.9 210,273.9 212,272.7 214,271.3 216,269.9 218,268.5 220,267.1 222,265.8 224,264.8 226,264.1 228,263.9 230,264.1 232,264.7 234,265.6 236,266.7 238,267.9 240,269.3 242,270.6 244,271.9 246,273.1 248,274.2 250,275.2 252,276.1 254,276.8 256,277.4 258,277.9 260,278.4 262,278.7 264,279.0 266,279.2 268,279.4 270,279.5 272,279.7 274,279.8 276,279.8 278,279.9 280,280.0 282,280.0 284,280.1 286,280.1 288,280.2 290,280.2 292,280.2 294,280.3 296,280.3 298,280.3 300,280.4 302,280.4 303.5,280.4" stroke="rgb(118,0,137)"/>
<polyline points="174.5,281.8 176,281.8 178,281.8 180,281.8 182,281.7 184,281.7 186,281.6 188,281.5 190,281.4 192,281.3 194,281.1 196,280.9 198,280.5 200,280.2 202,279.7 204,279.0 206,278.3 208,277.4 210,276.3 212,275.1 214,273.8 216,272.3 218,270.9 220,269.5 222,268.2 224,267.1 226,266.4 228,266.2 230,266.3 232,266.9 234,267.7 236,268.8 238,270.1 240,271.4 242,272.7 244,274.1 246,275.3 248,276.4 250,277.4 252,278.3 254,279.1 256,279.7 258,280.2 260,280.7 262,281.0 264,281.3 266,281.5 268,281.7 270,281.9 272,282.0 274,282.1 276,282.2 278,282.3 280,282.3 282,282.4 284,282.4 286,282.5 288,282.5 290,282.6 292,282.6 294,282.6 296,282.7 298,282.7 300,282.7 302,282.7 303.5,282.8" stroke="rgb(123,0,132)"/>
<polyline points="174.5,284.1 176,284.1 178,284.1 180,284.1 182,284.0 184,284.0 186,283.9 188,283.8 190,283.8 192,283.6 194,283.5 196,283.3 198,283.0 200,282.7 202,282.2 204,281.7 206,281.0 208,280.2 210,279.2 212,278.1 214,276.9 216,275.6 218,274.2 220,272.8 222,271.4 224,270.3 226,269.4 228,269.0 230,269.0 232,269.3 234,270.0 236,271.0 238,272.1 240,273.4 242,274.7 244,276.0 246,277.2 248,278.4 250,279.4 252,280.3 254,281.1 256,281.8 258,282.3 260,282.8 262,283.2 264,283.5 266,283.7 268,283.9 270,284.1 272,284.2 274,284.3 276,284.4 278,284.5 280,284.6 282,284.6 284,284.7 286,284.7 288,284.8 290,284.8 292,284.8 294,284.9 296,284.9 298,285.0 300,285.0 302,285.0 303.5,285.0" stroke="rgb(128,0,128)"/>
<polyline points="174.5,286.1 176,286.1 178,286.0 180,286.0 182,286.0 184,285.9 186,285.9 188,285.8 190,285.7 192,285.6 194,285.4 196,285.2 198,284.9 200,284.5 202,284.0 204,283.4 206,282.7 208,281.8 210,280.8 212,279.7 214,278.4 216,277.0 218,275.6 220,274.2 222,272.9 224,271.8 226,271.1 228,270.7 230,270.8 232,271.3 234,272.1 236,273.2 238,274.4 240,275.7 242,277.0 244,278.3 246,279.5 248,280.6 250,281.6 252,282.5 254,283.2 256,283.9 258,284.4 260,284.9 262,285.2 264,285.5 266,285.8 268,285.9 270,286.1 272,286.2 274,286.3 276,286.4 278,286.5 280,286.5 282,286.6 284,286.7 286,286.7 288,286.7 290,286.8 292,286.8 294,286.9 296,286.9 298,286.9 300,287.0 302,287.0 303.5,287.0" stroke="rgb(132,0,123)"/>
<polyline points="174.5,288.7 176,288.7 178,288.7 180,288.6 182,288.6 184,288.5 186,288.4 188,288.3 190,288.2 192,288.1 194,287.9 196,287.6 198,287.3 200,286.8 202,286.3 204,285.6 206,284.8 208,283.8 210,282.6 212,281.3 214,279.9 216,278.3 218,276.8 220,275.3 222,274.0 224,272.9 226,272.2 228,272.0 230,272.2 232,272.9 234,273.8 236,275.0 238,276.4 240,277.8 242,279.2 244,280.6 246,281.9 248,283.1 250,284.1 252,285.0 254,285.8 256,286.5 258,287.0 260,287.5 262,287.9 264,288.2 266,288.4 268,288.6 270,288.7 272,288.9 274,289.0 276,289.0 278,289.1 280,289.2 282,289.2 284,289.3 286,289.4 288,289.4 290,289.4 292,289.5 294,289.5 296,289.5 298,289.6 300,289.6 302,289.6 303.5,289.7" stroke="rgb(137,0,118)"/>
<polyline points="174.5,291.0 176,291.0 178,290.9 180,290.9 182,290.9 184,290.8 186,290.8 188,290.7 190,290.6 192,290.5 194,290.4 196,290.2 198,289.9 200,289.6 202,289.2 204,288.7 206,288.0 208,287.3 210,286.4 212,285.3 214,284.1 216,282.9 218,281.6 220,280.3 222,279.0 224,278.0 226,277.2 228,276.7 230,276.7 232,277.1 234,277.8 236,278.7 238,279.8 240,281.0 242,282.2 244,283.4 246,284.6 248,285.6 250,286.6 252,287.4 254,288.2 256,288.8 258,289.3 260,289.8 262,290.1 264,290.4 266,290.7 268,290.8 270,291.0 272,291.1 274,291.2 276,291.3 278,291.4 280,291.4 282,291.5 284,291.5 286,291.6 288,291.6 290,291.7 292,291.7 294,291.7 296,291.8 298,291.8 300,291.8 302,291.9 303.5,291.9" stroke="rgb(142,0,113)"/>
<polyline points="174.5,293.5 176,293.5 178,293.5 180,293.4 182,293.4 184,293.3 186,293.3 188,293.2 190,293.1 192,292.9 194,292.7 196,292.5 198,292.1 200,291.7 202,291.2 204,290.5 206,289.6 208,288.7 210,287.5 212,286.2 214,284.8 216,283.3 218,281.8 220,280.3 222,278.9 224,277.8 226,277.1 228,276.9 230,277.1 232,277.7 234,278.7 236,279.8 238,281.2 240,282.6 242,284.0 244,285.4 246,286.7 248,287.9 250,288.9 252,289.8 254,290.6 256,291.3 258,291.9 260,292.3 262,292.7 264,293.0 266,293.2 268,293.4 270,293.6 272,293.7 274,293.8 276,293.9 278,293.9 280,294.0 282,294.1 284,294.1 286,294.2 288,294.2 290,294.3 292,294.3 294,294.3 296,294.4 298,294.4 300,294.4 302,294.5 303.5,294.5" stroke="rgb(147,0,108)"/>
<polyline points="174.5,295.5 176,295.4 178,295.4 180,295.4 182,295.3 184,295.3 186,295.3 188,295.2 190,295.1 192,295.0 194,294.8 196,294.6 198,294.4 200,294.0 202,293.6 204,293.0 206,292.4 208,291.6 210,290.6 212,289.6 214,288.4 216,287.1 218,285.7 220,284.4 222,283.2 224,282.1 226,281.4 228,281.0 230,281.0 232,281.4 234,282.2 236,283.1 238,284.3 240,285.5 242,286.7 244,287.9 246,289.1 248,290.2 250,291.1 252,292.0 254,292.7 256,293.3 258,293.9 260,294.3 262,294.6 264,294.9 266,295.2 268,295.3 270,295.5 272,295.6 274,295.7 276,295.8 278,295.9 280,295.9 282,296.0 284,296.0 286,296.1 288,296.1 290,296.2 292,296.2 294,296.2 296,296.3 298,296.3 300,296.3 302,296.3 303.5,296.4" stroke="rgb(152,0,103)"/>
<polyline points="174.5,297.7 176,297.7 178,297.6 180,297.6 182,297.6 184,297.5 186,297.4 188,297.3 190,297.2 192,297.1 194,296.8 196,296.6 198,296.2 200,295.8 202,295.2 204,294.5 206,293.7 208,292.6 210,291.5 212,290.1 214,288.6 216,287.1 218,285.5 220,284.0 222,282.6 224,281.5 226,280.8 228,280.6 230,280.8 232,281.4 234,282.4 236,283.7 238,285.0 240,286.5 242,287.9 244,289.4 246,290.7 248,291.9 250,293.0 252,293.9 254,294.7 256,295.4 258,296.0 260,296.4 262,296.8 264,297.1 266,297.4 268,297.6 270,297.7 272,297.8 274,297.9 276,298.0 278,298.1 280,298.2 282,298.2 284,298.3 286,298.3 288,298.4 290,298.4 292,298.5 294,298.5 296,298.5 298,298.6 300,298.6 302,298.6 303.5,298.7" stroke="rgb(157,0,98)"/>
<polyline points="174.5,299.8 176,299.7 178,299.7 180,299.7 182,299.6 184,299.6 186,299.5 188,299.4 190,299.3 192,299.2 194,299.0 196,298.8 198,298.5 200,298.1 202,297.6 204,297.0 206,296.2 208,295.2 210,294.1 212,292.9 214,291.5 216,290.0 218,288.4 220,286.8 222,285.3 224,284.0 226,283.1 228,282.6 230,282.6 232,283.0 234,283.8 236,284.9 238,286.3 240,287.7 242,289.2 244,290.6 246,292.0 248,293.3 250,294.4 252,295.4 254,296.3 256,297.1 258,297.7 260,298.2 262,298.7 264,299.0 266,299.3 268,299.5 270,299.7 272,299.8 274,299.9 276,300.0 278,300.1 280,300.2 282,300.3 284,300.3 286,300.4 288,300.4 290,300.5 292,300.5 294,300.5 296,300.6 298,300.6 300,300.6 302,300.7 303.5,300.7" stroke="rgb(162,0,93)"/>
<polyline points="174.5,302.2 176,302.1 178,302.1 180,302.1 182,302.0 184,302.0 186,301.9 188,301.8 190,301.7 192,301.6 194,301.4 196,301.2 198,300.9 200,300.5 202,299.9 204,299.3 206,298.5 208,297.6 210,296.5 212,295.3 214,293.9 216,292.5 218,291.0 220,289.6 222,288.2 224,287.2 226,286.4 228,286.1 230,286.3 232,286.8 234,287.7 236,288.8 238,290.1 240,291.4 242,292.8 244,294.1 246,295.4 248,296.6 250,297.6 252,298.5 254,299.3 256,299.9 258,300.5 260,300.9 262,301.3 264,301.6 266,301.8 268,302.0 270,302.2 272,302.3 274,302.4 276,302.5 278,302.6 280,302.6 282,302.7 284,302.7 286,302.8 288,302.8 290,302.9 292,302.9 294,303.0 296,303.0 298,303.0 300,303.1 302,303.1 303.5,303.1" stroke="rgb(167,0,88)"/>
<polyline points="174.5,304.2 176,304.2 178,304.1 180,304.1 182,304.1 184,304.0 186,304.0 188,303.9 190,303.8 192,303.6 194,303.5 196,303.2 198,302.9 200,302.5 202,302.1 204,301.5 206,300.7 208,299.9 210,298.8 212,297.7 214,296.5 216,295.2 218,293.8 220,292.6 222,291.4 224,290.5 226,290.0 228,289.9 230,290.1 232,290.7 234,291.5 236,292.6 238,293.8 240,295.0 242,296.2 244,297.4 246,298.5 248,299.5 250,300.4 252,301.2 254,301.8 256,302.4 258,302.9 260,303.3 262,303.6 264,303.8 266,304.0 268,304.2 270,304.3 272,304.4 274,304.5 276,304.6 278,304.6 280,304.7 282,304.7 284,304.8 286,304.8 288,304.9 290,304.9 292,304.9 294,305.0 296,305.0 298,305.0 300,305.1 302,305.1 303.5,305.1" stroke="rgb(172,0,83)"/>
<polyline points="174.5,306.1 176,306.1 178,306.0 180,306.0 182,306.0 184,305.9 186,305.8 188,305.7 190,305.6 192,305.5 194,305.2 196,305.0 198,304.6 200,304.2 202,303.6 204,302.9 206,302.0 208,301.0 210,299.8 212,298.5 214,297.0 216,295.4 218,293.8 220,292.2 222,290.8 224,289.7 226,289.0 228,288.7 230,289.0 232,289.6 234,290.6 236,291.8 238,293.2 240,294.7 242,296.2 244,297.6 246,298.9 248,300.2 250,301.3 252,302.2 254,303.1 256,303.8 258,304.3 260,304.8 262,305.2 264,305.5 266,305.7 268,305.9 270,306.1 272,306.2 274,306.3 276,306.4 278,306.5 280,306.6 282,306.6 284,306.7 286,306.7 288,306.8 290,306.8 292,306.9 294,306.9 296,306.9 298,307.0 300,307.0 302,307.0 303.5,307.1" stroke="rgb(177,0,78)"/>
<polyline points="174.5,309.1 176,309.1 178,309.1 180,309.0 182,309.0 184,308.9 186,308.9 188,308.8 190,308.7 192,308.5 194,308.3 196,308.1 198,307.7 200,307.3 202,306.8 204,306.1 206,305.3 208,304.3 210,303.2 212,301.9 214,300.5 216,299.0 218,297.4 220,296.0 222,294.6 224,293.6 226,292.8 228,292.6 230,292.8 232,293.4 234,294.4 236,295.5 238,296.9 240,298.3 242,299.7 244,301.0 246,302.3 248,303.5 250,304.5 252,305.5 254,306.2 256,306.9 258,307.5 260,307.9 262,308.3 264,308.6 266,308.8 268,309.0 270,309.1 272,309.3 274,309.4 276,309.5 278,309.5 280,309.6 282,309.7 284,309.7 286,309.8 288,309.8 290,309.8 292,309.9 294,309.9 296,310.0 298,310.0 300,310.0 302,310.1 303.5,310.1" stroke="rgb(181,0,74)"/>
<polyline points="174.5,311.3 176,311.3 178,311.3 180,311.2 182,311.2 184,311.1 186,311.1 188,311.0 190,310.9 192,310.7 194,310.5 196,310.3 198,310.0 200,309.6 202,309.0 204,308.4 206,307.6 208,306.6 210,305.5 212,304.2 214,302.8 216,301.3 218,299.7 220,298.2 222,296.8 224,295.6 226,294.7 228,294.4 230,294.5 232,295.0 234,295.9 236,297.0 238,298.3 240,299.8 242,301.2 244,302.6 246,304.0 248,305.2 250,306.3 252,307.3 254,308.1 256,308.8 258,309.4 260,309.9 262,310.3 264,310.6 266,310.9 268,311.1 270,311.3 272,311.4 274,311.5 276,311.6 278,311.7 280,311.8 282,311.8 284,311.9 286,311.9 288,312.0 290,312.0 292,312.1 294,312.1 296,312.1 298,312.2 300,312.2 302,312.2 303.5,312.3" stroke="rgb(186,0,69)"/>
<polyline points="174.5,313.4 176,313.4 178,313.3 180,313.3 182,313.3 184,313.2 186,313.2 188,313.1 190,313.0 192,312.8 194,312.6 196,312.4 198,312.1 200,311.7 202,311.2 204,310.6 206,309.8 208,308.9 210,307.9 212,306.7 214,305.4 216,304.0 218,302.6 220,301.2 222,300.0 224,299.0 226,298.4 228,298.2 230,298.5 232,299.0 234,299.9 236,301.0 238,302.2 240,303.5 242,304.8 244,306.1 246,307.2 248,308.3 250,309.3 252,310.1 254,310.8 256,311.4 258,311.9 260,312.3 262,312.7 264,312.9 266,313.2 268,313.3 270,313.5 272,313.6 274,313.7 276,313.8 278,313.8 280,313.9 282,313.9 284,314.0 286,314.0 288,314.1 290,314.1 292,314.2 294,314.2 296,314.2 298,314.3 300,314.3 302,314.3 303.5,314.3" stroke="rgb(191,0,64)"/>
<polyline points="174.5,315.4 176,315.4 178,315.3 180,315.3 182,315.3 184,315.2 186,315.1 188,315.0 190,314.9 192,314.8 194,314.6 196,314.3 198,313.9 200,313.5 202,312.9 204,312.2 206,311.4 208,310.4 210,309.2 212,307.9 214,306.4 216,304.9 218,303.4 220,301.9 222,300.6 224,299.5 226,298.9 228,298.7 230,299.0 232,299.7 234,300.6 236,301.9 238,303.2 240,304.6 242,306.1 244,307.4 246,308.7 248,309.9 250,310.9 252,311.8 254,312.6 256,313.2 258,313.8 260,314.2 262,314.6 264,314.9 266,315.1 268,315.3 270,315.4 272,315.6 274,315.7 276,315.8 278,315.8 280,315.9 282,316.0 284,316.0 286,316.1 288,316.1 290,316.1 292,316.2 294,316.2 296,316.2 298,316.3 300,316.3 302,316.3 303.5,316.4" stroke="rgb(196,0,59)"/>
<polyline points="174.5,317.2 176,317.2 178,317.2 180,317.2 182,317.1 184,317.1 186,317.0 188,316.9 190,316.8 192,316.7 194,316.5 196,316.3 198,316.0 200,315.7 202,315.2 204,314.6 206,313.9 208,313.1 210,312.1 212,311.0 214,309.7 216,308.3 218,307.0 220,305.6 222,304.3 224,303.3 226,302.6 228,302.2 230,302.3 232,302.8 234,303.6 236,304.6 238,305.8 240,307.1 242,308.4 244,309.6 246,310.8 248,311.9 250,312.9 252,313.7 254,314.5 256,315.1 258,315.6 260,316.1 262,316.4 264,316.7 266,316.9 268,317.1 270,317.3 272,317.4 274,317.5 276,317.6 278,317.6 280,317.7 282,317.8 284,317.8 286,317.9 288,317.9 290,317.9 292,318.0 294,318.0 296,318.0 298,318.1 300,318.1 302,318.1 303.5,318.2" stroke="rgb(201,0,54)"/>
<polyline points="174.5,319.3 176,319.2 178,319.2 180,319.2 182,319.1 184,319.1 186,319.0 188,318.9 190,318.8 192,318.7 194,318.5 196,318.2 198,317.9 200,317.5 202,317.0 204,316.3 206,315.5 208,314.5 210,313.4 212,312.1 214,310.7 216,309.1 218,307.5 220,306.0 222,304.5 224,303.3 226,302.5 228,302.1 230,302.2 232,302.7 234,303.6 236,304.7 238,306.1 240,307.5 242,309.0 244,310.4 246,311.8 248,313.0 250,314.2 252,315.2 254,316.0 256,316.8 258,317.4 260,317.9 262,318.3 264,318.6 266,318.8 268,319.1 270,319.2 272,319.4 274,319.5 276,319.6 278,319.7 280,319.7 282,319.8 284,319.8 286,319.9 288,319.9 290,320.0 292,320.0 294,320.1 296,320.1 298,320.1 300,320.2 302,320.2 303.5,320.2" stroke="rgb(206,0,49)"/>
<polyline points="174.5,321.6 176,321.6 178,321.6 180,321.5 182,321.5 184,321.5 186,321.4 188,321.3 190,321.2 192,321.1 194,321.0 196,320.8 198,320.5 200,320.1 202,319.7 204,319.1 206,318.5 208,317.6 210,316.7 212,315.6 214,314.3 216,313.0 218,311.6 220,310.2 222,308.8 224,307.7 226,306.8 228,306.4 230,306.4 232,306.8 234,307.5 236,308.4 238,309.6 240,310.9 242,312.2 244,313.5 246,314.7 248,315.9 250,316.9 252,317.8 254,318.6 256,319.3 258,319.8 260,320.3 262,320.7 264,321.0 266,321.2 268,321.4 270,321.6 272,321.7 274,321.8 276,321.9 278,322.0 280,322.1 282,322.1 284,322.2 286,322.2 288,322.3 290,322.3 292,322.3 294,322.4 296,322.4 298,322.4 300,322.5 302,322.5 303.5,322.5" stroke="rgb(211,0,44)"/>
<polyline points="174.5,323.5 176,323.5 178,323.5 180,323.5 182,323.4 184,323.4 186,323.3 188,323.2 190,323.1 192,323.0 194,322.8 196,322.5 198,322.2 200,321.8 202,321.3 204,320.7 206,319.9 208,319.0 210,317.9 212,316.7 214,315.4 216,314.1 218,312.7 220,311.3 222,310.1 224,309.2 226,308.7 228,308.5 230,308.8 232,309.4 234,310.3 236,311.4 238,312.6 240,313.9 242,315.2 244,316.4 246,317.6 248,318.7 250,319.6 252,320.4 254,321.1 256,321.7 258,322.2 260,322.6 262,322.9 264,323.1 266,323.4 268,323.5 270,323.7 272,323.8 274,323.9 276,323.9 278,324.0 280,324.1 282,324.1 284,324.2 286,324.2 288,324.3 290,324.3 292,324.3 294,324.4 296,324.4 298,324.4 300,324.5 302,324.5 303.5,324.5" stroke="rgb(216,0,39)"/>
<polyline points="174.5,326.5 176,326.5 178,326.5 180,326.4 182,326.4 184,326.4 186,326.3 188,326.2 190,326.1 192,326.0 194,325.8 196,325.6 198,325.3 200,324.9 202,324.4 204,323.8 206,323.1 208,322.2 210,321.2 212,320.0 214,318.7 216,317.3 218,315.9 220,314.5 222,313.3 224,312.2 226,311.5 228,311.2 230,311.4 232,311.9 234,312.7 236,313.8 238,315.0 240,316.3 242,317.6 244,318.9 246,320.1 248,321.2 250,322.2 252,323.0 254,323.8 256,324.4 258,324.9 260,325.4 262,325.7 264,326.0 266,326.2 268,326.4 270,326.6 272,326.7 274,326.8 276,326.9 278,326.9 280,327.0 282,327.1 284,327.1 286,327.2 288,327.2 290,327.2 292,327.3 294,327.3 296,327.3 298,327.4 300,327.4 302,327.4 303.5,327.5" stroke="rgb(221,0,34)"/>
<polyline points="174.5,328.3 176,328.3 178,328.3 180,328.3 182,328.2 184,328.2 186,328.1 188,328.0 190,327.9 192,327.8 194,327.6 196,327.4 198,327.1 200,326.7 202,326.2 204,325.6 206,324.9 208,324.0 210,323.0 212,321.9 214,320.6 216,319.3 218,317.9 220,316.6 222,315.4 224,314.5 226,313.9 228,313.7 230,313.9 232,314.5 234,315.3 236,316.4 238,317.6 240,318.8 242,320.1 244,321.3 246,322.4 248,323.5 250,324.4 252,325.2 254,325.9 256,326.5 258,326.9 260,327.3 262,327.7 264,327.9 266,328.1 268,328.3 270,328.4 272,328.5 274,328.6 276,328.7 278,328.8 280,328.8 282,328.9 284,328.9 286,329.0 288,329.0 290,329.1 292,329.1 294,329.1 296,329.2 298,329.2 300,329.2 302,329.3 303.5,329.3" stroke="rgb(226,0,29)"/>
<polyline points="174.5,331.0 176,331.0 178,331.0 180,330.9 182,330.9 184,330.8 186,330.8 188,330.7 190,330.6 192,330.5 194,330.3 196,330.1 198,329.8 200,329.4 202,328.9 204,328.3 206,327.6 208,326.7 210,325.6 212,324.4 214,323.1 216,321.7 218,320.2 220,318.8 222,317.5 224,316.4 226,315.6 228,315.3 230,315.4 232,315.9 234,316.7 236,317.8 238,319.0 240,320.3 242,321.7 244,323.0 246,324.2 248,325.4 250,326.4 252,327.3 254,328.1 256,328.8 258,329.3 260,329.8 262,330.1 264,330.4 266,330.7 268,330.9 270,331.0 272,331.1 274,331.2 276,331.3 278,331.4 280,331.5 282,331.5 284,331.6 286,331.6 288,331.7 290,331.7 292,331.8 294,331.8 296,331.8 298,331.9 300,331.9 302,331.9 303.5,331.9" stroke="rgb(230,0,25)"/>
<polyline points="174.5,332.7 176,332.7 178,332.7 180,332.6 182,332.6 184,332.6 186,332.5 188,332.4 190,332.3 192,332.2 194,332.0 196,331.8 198,331.5 200,331.1 202,330.6 204,330.0 206,329.3 208,328.4 210,327.4 212,326.3 214,325.0 216,323.7 218,322.3 220,320.9 222,319.7 224,318.7 226,318.0 228,317.8 230,317.9 232,318.5 234,319.3 236,320.3 238,321.5 240,322.8 242,324.1 244,325.3 246,326.5 248,327.6 250,328.5 252,329.4 254,330.1 256,330.7 258,331.2 260,331.6 262,332.0 264,332.2 266,332.5 268,332.6 270,332.8 272,332.9 274,333.0 276,333.1 278,333.2 280,333.2 282,333.3 284,333.3 286,333.4 288,333.4 290,333.4 292,333.5 294,333.5 296,333.5 298,333.6 300,333.6 302,333.6 303.5,333.7" stroke="rgb(235,0,20)"/>
<polyline points="174.5,335.5 176,335.5 178,335.4 180,335.4 182,335.4 184,335.3 186,335.2 188,335.2 190,335.0 192,334.9 194,334.7 196,334.5 198,334.2 200,333.8 202,333.3 204,332.7 206,331.9 208,330.9 210,329.8 212,328.6 214,327.1 216,325.6 218,324.0 220,322.3 222,320.8 224,319.5 226,318.5 228,317.9 230,317.9 232,318.3 234,319.1 236,320.2 238,321.5 240,323.0 242,324.5 244,326.0 246,327.4 248,328.7 250,329.9 252,331.0 254,331.9 256,332.7 258,333.3 260,333.9 262,334.3 264,334.7 266,335.0 268,335.2 270,335.4 272,335.5 274,335.6 276,335.8 278,335.8 280,335.9 282,336.0 284,336.0 286,336.1 288,336.1 290,336.2 292,336.2 294,336.3 296,336.3 298,336.3 300,336.4 302,336.4 303.5,336.4" stroke="rgb(240,0,15)"/>
<polyline points="174.5,337.6 176,337.6 178,337.5 180,337.5 182,337.5 184,337.4 186,337.3 188,337.3 190,337.1 192,337.0 194,336.8 196,336.6 198,336.3 200,335.9 202,335.4 204,334.7 206,334.0 208,333.0 210,331.9 212,330.7 214,329.3 216,327.8 218,326.2 220,324.7 222,323.2 224,322.0 226,321.2 228,320.7 230,320.8 232,321.3 234,322.1 236,323.3 238,324.6 240,326.0 242,327.4 244,328.8 246,330.2 248,331.4 250,332.5 252,333.5 254,334.4 256,335.1 258,335.7 260,336.2 262,336.6 264,336.9 266,337.2 268,337.4 270,337.5 272,337.7 274,337.8 276,337.9 278,338.0 280,338.0 282,338.1 284,338.2 286,338.2 288,338.3 290,338.3 292,338.3 294,338.4 296,338.4 298,338.4 300,338.5 302,338.5 303.5,338.5" stroke="rgb(245,0,10)"/>
<polyline points="174.5,338.8 176,338.8 178,338.8 180,338.7 182,338.7 184,338.6 186,338.6 188,338.5 190,338.4 192,338.2 194,338.0 196,337.7 198,337.4 200,337.0 202,336.4 204,335.7 206,334.9 208,333.9 210,332.7 212,331.4 214,330.0 216,328.5 218,326.9 220,325.5 222,324.1 224,323.1 226,322.4 228,322.2 230,322.5 232,323.1 234,324.1 236,325.3 238,326.6 240,328.0 242,329.5 244,330.8 246,332.1 248,333.3 250,334.3 252,335.2 254,336.0 256,336.7 258,337.2 260,337.7 262,338.0 264,338.3 266,338.5 268,338.7 270,338.9 272,339.0 274,339.1 276,339.2 278,339.3 280,339.3 282,339.4 284,339.5 286,339.5 288,339.5 290,339.6 292,339.6 294,339.7 296,339.7 298,339.7 300,339.8 302,339.8 303.5,339.8" stroke="rgb(250,0,5)"/>
<polyline points="174.5,341.6 176,341.6 178,341.6 180,341.5 182,341.5 184,341.4 186,341.4 188,341.3 190,341.2 192,341.0 194,340.9 196,340.6 198,340.3 200,339.9 202,339.4 204,338.7 206,338.0 208,337.0 210,335.9 212,334.7 214,333.3 216,331.8 218,330.3 220,328.8 222,327.5 224,326.3 226,325.6 228,325.2 230,325.4 232,325.9 234,326.8 236,327.9 238,329.2 240,330.6 242,332.0 244,333.3 246,334.6 248,335.8 250,336.9 252,337.8 254,338.6 256,339.3 258,339.9 260,340.3 262,340.7 264,341.0 266,341.3 268,341.5 270,341.6 272,341.7 274,341.9 276,341.9 278,342.0 280,342.1 282,342.1 284,342.2 286,342.2 288,342.3 290,342.3 292,342.4 294,342.4 296,342.4 298,342.5 300,342.5 302,342.5 303.5,342.6" stroke="rgb(255,0,0)"/>
</g>
<line x1="240.95999999999998" y1="209.6" x2="240.95999999999998" y2="345.9" stroke="#333" stroke-width="1" stroke-dasharray="2.4,2.7"/>
<rect x="173.9" y="209.6" width="129.6" height="136.29999999999998" fill="none" stroke="#5a5a5a" stroke-width="1.1"/>
<line x1="199.6" y1="209.6" x2="199.6" y2="211.2" stroke="#5a5a5a" stroke-width="1"/>
<line x1="199.6" y1="345.9" x2="199.6" y2="344.29999999999995" stroke="#5a5a5a" stroke-width="1"/>
<text x="199.6" y="359.9" font-size="10.8" text-anchor="middle" fill="#262626" >560</text>
<line x1="251.3" y1="209.6" x2="251.3" y2="211.2" stroke="#5a5a5a" stroke-width="1"/>
<line x1="251.3" y1="345.9" x2="251.3" y2="344.29999999999995" stroke="#5a5a5a" stroke-width="1"/>
<text x="251.3" y="359.9" font-size="10.8" text-anchor="middle" fill="#262626" >570</text>
<text x="303.0" y="359.9" font-size="10.8" text-anchor="middle" fill="#262626" >580</text>
<text x="238.7" y="374.2" font-size="11.8" text-anchor="middle" fill="#262626" >Raman shift (rel. 1/cm)</text>
<g fill="none" stroke-width="1" stroke-linecap="round" stroke-linejoin="round">
<line x1="425.9" y1="230.8" x2="424" y2="233.4" stroke="rgb(58,56,252)" stroke-width="1.15"/>
<line x1="424" y1="233.4" x2="422.5" y2="235.6" stroke="rgb(62,56,248)" stroke-width="1.15"/>
<line x1="422.5" y1="235.6" x2="406.8" y2="239.5" stroke="rgb(67,56,243)" stroke-width="1.15"/>
<line x1="406.8" y1="239.5" x2="427.9" y2="242.3" stroke="rgb(73,56,237)" stroke-width="1.15"/>
<line x1="427.9" y1="242.3" x2="409.4" y2="246.4" stroke="rgb(79,56,231)" stroke-width="1.15"/>
<line x1="409.4" y1="246.4" x2="442" y2="248.8" stroke="rgb(85,56,225)" stroke-width="1.15"/>
<line x1="442" y1="248.8" x2="405" y2="250.8" stroke="rgb(89,56,221)" stroke-width="1.15"/>
<line x1="405" y1="250.8" x2="411.6" y2="252.5" stroke="rgb(92,56,218)" stroke-width="1.15"/>
<line x1="411.6" y1="252.5" x2="400.3" y2="255.6" stroke="rgb(96,56,214)" stroke-width="1.15"/>
<line x1="400.3" y1="255.6" x2="433.3" y2="258" stroke="rgb(101,56,209)" stroke-width="1.15"/>
<line x1="433.3" y1="258" x2="423.5" y2="260.1" stroke="rgb(105,56,205)" stroke-width="1.15"/>
<line x1="423.5" y1="260.1" x2="433.3" y2="263" stroke="rgb(110,56,200)" stroke-width="1.15"/>
<line x1="433.3" y1="263" x2="405" y2="267.3" stroke="rgb(116,56,194)" stroke-width="1.15"/>
<line x1="405" y1="267.3" x2="431.2" y2="269.3" stroke="rgb(121,56,189)" stroke-width="1.15"/>
<line x1="431.2" y1="269.3" x2="380.7" y2="271.6" stroke="rgb(125,56,185)" stroke-width="1.15"/>
<line x1="380.7" y1="271.6" x2="400.7" y2="273.4" stroke="rgb(129,56,181)" stroke-width="1.15"/>
<line x1="400.7" y1="273.4" x2="395.3" y2="274.6" stroke="rgb(132,56,179)" stroke-width="1.15"/>
<line x1="395.3" y1="274.6" x2="397.4" y2="277.7" stroke="rgb(135,56,175)" stroke-width="1.15"/>
<line x1="397.4" y1="277.7" x2="438.8" y2="280.3" stroke="rgb(140,56,170)" stroke-width="1.15"/>
<line x1="438.8" y1="280.3" x2="358.3" y2="285.3" stroke="rgb(147,56,163)" stroke-width="1.15"/>
<line x1="358.3" y1="285.3" x2="424.6" y2="289.7" stroke="rgb(155,56,155)" stroke-width="1.15"/>
<line x1="424.6" y1="289.7" x2="430.1" y2="290.3" stroke="rgb(160,56,150)" stroke-width="1.15"/>
<line x1="430.1" y1="290.3" x2="426.8" y2="291.9" stroke="rgb(162,56,149)" stroke-width="1.15"/>
<line x1="426.8" y1="291.9" x2="347.4" y2="296.6" stroke="rgb(167,56,143)" stroke-width="1.15"/>
<line x1="347.4" y1="296.6" x2="429" y2="301.2" stroke="rgb(175,56,135)" stroke-width="1.15"/>
<line x1="429" y1="301.2" x2="385.5" y2="302.7" stroke="rgb(181,56,129)" stroke-width="1.15"/>
<line x1="385.5" y1="302.7" x2="378.9" y2="305.6" stroke="rgb(184,56,126)" stroke-width="1.15"/>
<line x1="378.9" y1="305.6" x2="387.6" y2="308.2" stroke="rgb(189,56,121)" stroke-width="1.15"/>
<line x1="387.6" y1="308.2" x2="430.1" y2="309.9" stroke="rgb(193,56,117)" stroke-width="1.15"/>
<line x1="430.1" y1="309.9" x2="423.5" y2="312.5" stroke="rgb(197,56,113)" stroke-width="1.15"/>
<line x1="423.5" y1="312.5" x2="422.5" y2="314.7" stroke="rgb(201,56,109)" stroke-width="1.15"/>
<line x1="422.5" y1="314.7" x2="417" y2="317.3" stroke="rgb(205,56,105)" stroke-width="1.15"/>
<line x1="417" y1="317.3" x2="405" y2="321.2" stroke="rgb(211,56,99)" stroke-width="1.15"/>
<line x1="405" y1="321.2" x2="412.7" y2="322.3" stroke="rgb(215,56,95)" stroke-width="1.15"/>
<line x1="412.7" y1="322.3" x2="412.7" y2="327.8" stroke="rgb(221,56,89)" stroke-width="1.15"/>
<line x1="412.7" y1="327.8" x2="427.9" y2="330.6" stroke="rgb(228,56,82)" stroke-width="1.15"/>
<line x1="427.9" y1="330.6" x2="349.6" y2="332.5" stroke="rgb(233,56,77)" stroke-width="1.15"/>
<line x1="349.6" y1="332.5" x2="413.8" y2="334.9" stroke="rgb(236,56,74)" stroke-width="1.15"/>
<line x1="413.8" y1="334.9" x2="420.3" y2="338.6" stroke="rgb(242,56,68)" stroke-width="1.15"/>
<line x1="420.3" y1="338.6" x2="424.2" y2="340.8" stroke="rgb(247,56,63)" stroke-width="1.15"/>
<line x1="424.2" y1="340.8" x2="405" y2="344" stroke="rgb(252,56,58)" stroke-width="1.15"/>
</g>
<rect x="318.7" y="209.6" width="129.6" height="136.29999999999998" fill="none" stroke="#5a5a5a" stroke-width="1.1"/>
<line x1="344.62" y1="209.6" x2="344.62" y2="211.2" stroke="#5a5a5a" stroke-width="1"/>
<line x1="344.62" y1="345.9" x2="344.62" y2="344.29999999999995" stroke="#5a5a5a" stroke-width="1"/>
<text x="344.62" y="359.9" font-size="10.8" text-anchor="middle" fill="#262626" >400</text>
<line x1="396.46" y1="209.6" x2="396.46" y2="211.2" stroke="#5a5a5a" stroke-width="1"/>
<line x1="396.46" y1="345.9" x2="396.46" y2="344.29999999999995" stroke="#5a5a5a" stroke-width="1"/>
<text x="396.46" y="359.9" font-size="10.8" text-anchor="middle" fill="#262626" >500</text>
<text x="448.29999999999995" y="359.9" font-size="10.8" text-anchor="middle" fill="#262626" >600</text>
<text x="383.5" y="374.2" font-size="11.8" text-anchor="middle" fill="#262626" >Biaxial stress (MPa)</text>
<line x1="522.8" y1="277.5" x2="547.8" y2="277.5" stroke="#222" stroke-width="1" stroke-dasharray="2.5,2"/>
<line x1="569.2" y1="277.5" x2="587.2" y2="277.5" stroke="#222" stroke-width="1" stroke-dasharray="2.5,2"/>
<line x1="522.8" y1="252.0" x2="522.8" y2="303.0" stroke="#484848" stroke-width="1.1"/>
<line x1="587.2" y1="252.0" x2="587.2" y2="303.0" stroke="#484848" stroke-width="1.1"/>
<path d="M547.8,225.8 L555.0,225.8 L559.9,250.5 L564.7,225.8 L569.2,225.8 L569.2,329.2 L564.7,329.2 L559.9,304.3 L555.0,329.2 L547.8,329.2 Z" fill="none" stroke="#4040ff" stroke-width="1.1" stroke-linejoin="round"/>
<line x1="559.9" y1="251.0" x2="559.9" y2="303.8" stroke="#ff5a5a" stroke-width="1"/>
<path d="M487.6,277.5 h8 M491.6,273.5 v8" stroke="#ff3a3a" stroke-width="1" fill="none"/>
<path d="M490.1,277.5 h8 M494.1,273.5 v8" stroke="#ff3a3a" stroke-width="1" fill="none"/>
<path d="M498.6,277.5 h8 M502.6,273.5 v8" stroke="#ff3a3a" stroke-width="1" fill="none"/>
<rect x="463.6" y="209.6" width="129.6" height="136.29999999999998" fill="none" stroke="#5a5a5a" stroke-width="1.1"/>
<line x1="489.52000000000004" y1="209.6" x2="489.52000000000004" y2="211.2" stroke="#5a5a5a" stroke-width="1"/>
<line x1="489.52000000000004" y1="345.9" x2="489.52000000000004" y2="344.29999999999995" stroke="#5a5a5a" stroke-width="1"/>
<text x="489.52000000000004" y="359.9" font-size="10.8" text-anchor="middle" fill="#262626" >400</text>
<line x1="541.36" y1="209.6" x2="541.36" y2="211.2" stroke="#5a5a5a" stroke-width="1"/>
<line x1="541.36" y1="345.9" x2="541.36" y2="344.29999999999995" stroke="#5a5a5a" stroke-width="1"/>
<text x="541.36" y="359.9" font-size="10.8" text-anchor="middle" fill="#262626" >500</text>
<text x="593.2" y="359.9" font-size="10.8" text-anchor="middle" fill="#262626" >600</text>
<line x1="463.6" y1="277.5" x2="465.20000000000005" y2="277.5" stroke="#5a5a5a" stroke-width="1"/>
<line x1="593.2" y1="277.5" x2="591.6" y2="277.5" stroke="#5a5a5a" stroke-width="1"/>
<text x="528.4" y="374.2" font-size="11.8" text-anchor="middle" fill="#262626" >Biaxial stress (MPa)</text>
</svg>
</body></html>
